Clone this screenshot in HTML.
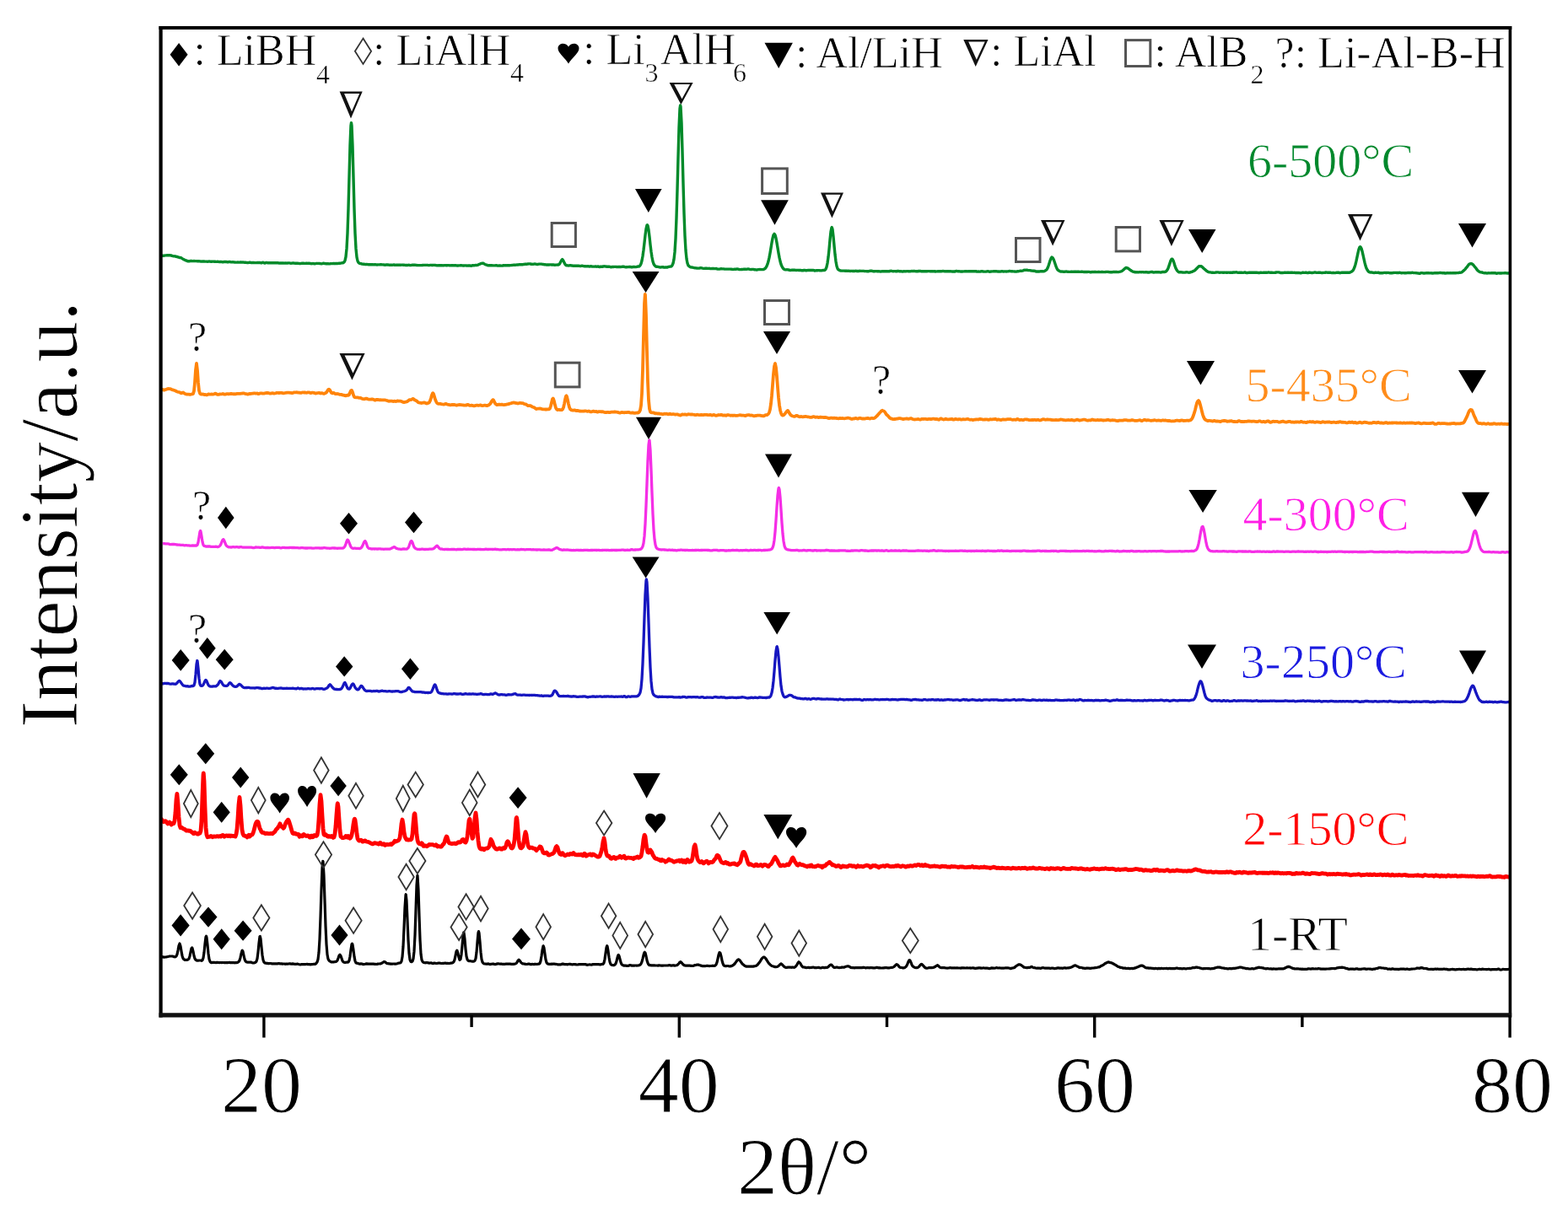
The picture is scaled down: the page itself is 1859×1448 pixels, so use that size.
<!DOCTYPE html><html><head><meta charset="utf-8"><style>html,body{margin:0;padding:0;background:#fff;}svg{display:block;}</style></head><body><svg width="1859" height="1448" viewBox="0 0 1859 1448">
<style>text{stroke:#fff;stroke-linejoin:round}</style>
<rect width="100%" height="100%" fill="#fff"/>
<polyline fill="none" stroke="#008a2a" stroke-width="3.4" stroke-linejoin="round" points="190,303.6 191,303.5 192,303.3 193,303.1 194,303.2 195,303.1 196,302.9 197,302.9 198,302.8 199,302.7 200,302.6 201,302.7 202,302.8 203,303.0 204,303.3 205,303.6 206,303.8 207,303.9 208,304.0 209,304.3 210,304.5 211,304.8 212,305.2 213,305.5 214,305.5 215,305.9 216,306.6 217,307.2 218,307.7 219,308.3 220,308.8 221,309.0 222,309.5 223,309.8 224,309.8 225,309.7 226,309.5 227,309.4 228,309.6 229,309.6 230,309.5 231,309.6 232,309.6 233,309.6 234,309.7 235,309.8 236,309.8 237,309.9 238,310.0 239,310.1 240,310.0 241,309.9 242,310.0 243,310.1 244,310.1 245,310.1 246,310.2 247,310.1 248,310.0 249,310.1 250,310.2 251,310.2 252,310.1 253,310.1 254,310.2 255,310.3 256,310.4 257,310.4 258,310.3 259,310.4 260,310.6 261,310.5 262,310.4 263,310.6 264,310.7 265,310.7 266,310.5 267,310.4 268,310.5 269,310.7 270,310.8 271,310.7 272,310.5 273,310.6 274,310.9 275,310.9 276,310.8 277,310.9 278,311.0 279,311.1 280,311.1 281,311.1 282,311.0 283,311.1 284,311.1 285,310.9 286,311.0 287,311.1 288,311.0 289,311.1 290,311.2 291,311.3 292,311.4 293,311.5 294,311.6 295,311.4 296,311.2 297,311.3 298,311.6 299,311.5 300,311.4 301,311.5 302,311.6 303,311.6 304,311.6 305,311.5 306,311.5 307,311.5 308,311.5 309,311.7 310,311.8 311,311.4 312,311.3 313,311.8 314,312.0 315,311.7 316,311.5 317,311.7 318,311.7 319,311.6 320,311.7 321,311.8 322,311.8 323,311.8 324,311.8 325,311.7 326,311.7 327,311.7 328,311.8 329,311.7 330,311.8 331,312.1 332,312.0 333,312.0 334,312.0 335,312.0 336,312.0 337,312.1 338,312.0 339,312.0 340,312.1 341,312.0 342,311.9 343,311.9 344,312.1 345,312.2 346,312.1 347,312.0 348,311.9 349,312.1 350,312.3 351,312.2 352,312.2 353,312.3 354,312.4 355,312.5 356,312.6 357,312.4 358,312.3 359,312.3 360,312.3 361,312.4 362,312.4 363,312.3 364,312.3 365,312.4 366,312.3 367,312.3 368,312.5 369,312.7 370,312.6 371,312.5 372,312.6 373,312.9 374,312.7 375,312.4 376,312.4 377,312.4 378,312.4 379,312.5 380,312.6 381,312.8 382,312.6 383,312.3 384,312.3 385,312.5 386,312.7 387,312.8 388,312.6 389,312.7 390,312.9 391,312.9 392,312.6 393,312.6 394,312.6 395,312.5 396,312.5 397,312.7 398,312.5 399,312.4 400,312.5 401,312.4 402,312.3 403,312.2 404,312.1 405,311.9 406,311.8 407,311.5 408,310.8 409,309.0 410,304.6 411,294.9 412,276.5 413,247.4 414,210.1 415,172.9 416,148.9 416.5,145.6 417,148.9 418,173.0 419,210.4 420,247.8 421,276.6 422,294.9 423,304.9 424,309.5 425,311.3 426,312.2 427,312.5 428,312.7 429,313.0 430,313.2 431,313.2 432,313.3 433,313.6 434,313.5 435,313.4 436,313.6 437,313.7 438,313.7 439,313.7 440,313.8 441,313.8 442,313.8 443,313.9 444,313.8 445,313.8 446,313.9 447,314.0 448,313.9 449,313.9 450,313.9 451,313.8 452,313.8 453,313.9 454,313.9 455,314.0 456,314.2 457,314.2 458,314.0 459,314.0 460,314.0 461,314.1 462,314.4 463,314.2 464,314.1 465,314.3 466,314.1 467,314.0 468,314.3 469,314.4 470,314.2 471,314.2 472,314.3 473,314.2 474,314.3 475,314.3 476,314.1 477,314.1 478,314.2 479,314.3 480,314.4 481,314.5 482,314.5 483,314.5 484,314.4 485,314.3 486,314.5 487,314.6 488,314.4 489,314.3 490,314.3 491,314.3 492,314.3 493,314.4 494,314.5 495,314.6 496,314.6 497,314.6 498,314.6 499,314.6 500,314.6 501,314.5 502,314.4 503,314.4 504,314.4 505,314.4 506,314.4 507,314.4 508,314.6 509,314.6 510,314.4 511,314.4 512,314.5 513,314.5 514,314.4 515,314.4 516,314.5 517,314.6 518,314.8 519,314.9 520,314.8 521,314.7 522,314.6 523,314.7 524,314.8 525,314.9 526,314.8 527,314.6 528,314.6 529,314.7 530,314.7 531,314.6 532,314.6 533,314.8 534,314.9 535,314.8 536,314.7 537,314.7 538,314.9 539,314.8 540,314.7 541,314.9 542,315.0 543,315.0 544,314.9 545,314.9 546,314.8 547,314.8 548,314.9 549,315.0 550,315.0 551,314.9 552,314.9 553,315.0 554,315.1 555,315.0 556,314.9 557,315.0 558,315.2 559,315.2 560,314.8 561,314.8 562,314.9 563,314.7 564,314.5 565,314.6 566,314.4 567,313.9 568,313.4 569,313.1 570,312.7 571,312.4 571.6,312.3 572,312.2 573,312.3 574,312.9 575,313.5 576,313.9 577,314.2 578,314.6 579,314.8 580,314.8 581,314.8 582,314.8 583,314.7 584,314.9 585,314.9 586,314.9 587,314.9 588,314.8 589,314.8 590,315.0 591,315.1 592,314.9 593,315.0 594,315.1 595,315.1 596,315.0 597,314.7 598,314.6 599,314.8 600,314.8 601,314.6 602,314.7 603,314.8 604,314.8 605,314.6 606,314.6 607,314.5 608,314.4 609,314.3 610,314.2 611,314.2 612,314.1 613,314.0 614,314.0 615,313.8 616,313.8 617,313.8 618,313.8 619,313.7 620,313.7 621,313.5 622,313.3 623,313.2 624,313.3 625,313.2 626,313.0 627,312.9 628,312.9 629,313.0 630,313.3 631,313.4 632,313.3 633,313.1 634,313.0 635,313.1 636,313.3 637,313.5 638,313.3 639,313.1 640,313.1 641,313.1 642,313.1 643,313.3 644,313.5 645,313.7 646,313.7 647,313.9 648,314.0 649,313.9 650,314.0 651,314.0 652,313.9 653,313.9 654,314.0 655,314.0 656,314.0 657,314.2 658,314.2 659,314.1 660,314.1 661,314.0 662,314.0 663,313.5 664,312.1 665,310.1 666,308.2 666.7,307.6 667,307.8 668,309.4 669,311.6 670,313.5 671,314.5 672,314.8 673,314.9 674,315.0 675,314.9 676,314.7 677,314.8 678,315.0 679,315.2 680,315.2 681,315.2 682,315.2 683,315.2 684,315.1 685,315.2 686,315.3 687,315.4 688,315.6 689,315.4 690,315.2 691,315.4 692,315.6 693,315.7 694,315.8 695,315.9 696,315.8 697,315.6 698,315.8 699,316.0 700,315.8 701,315.8 702,316.0 703,316.1 704,316.1 705,316.1 706,316.0 707,316.2 708,316.1 709,316.0 710,316.3 711,316.5 712,316.2 713,316.2 714,316.3 715,316.0 716,315.8 717,315.9 718,316.0 719,316.2 720,316.3 721,316.3 722,316.2 723,316.4 724,316.7 725,316.7 726,316.5 727,316.5 728,316.4 729,316.4 730,316.4 731,316.5 732,316.6 733,316.5 734,316.4 735,316.5 736,316.6 737,316.4 738,316.3 739,316.3 740,316.3 741,316.6 742,316.8 743,316.7 744,316.6 745,316.6 746,316.5 747,316.5 748,316.7 749,316.8 750,316.7 751,316.5 752,316.5 753,316.6 754,316.6 755,316.4 756,316.0 757,316.1 758,315.8 759,314.7 760,312.7 761,309.2 762,303.7 763,296.5 764,287.9 765,279.0 766,271.4 767,267.2 767.4,266.8 768,267.7 769,272.7 770,280.8 771,290.1 772,298.4 773,305.0 774,310.0 775,313.0 776,314.6 777,315.7 778,316.2 779,316.3 780,316.4 781,316.6 782,316.8 783,317.0 784,316.9 785,316.7 786,316.7 787,317.0 788,317.2 789,317.0 790,317.0 791,317.0 792,316.7 793,316.4 794,316.1 795,316.1 796,315.8 797,314.6 798,312.3 799,307.7 800,298.9 801,283.1 802,258.4 803,225.1 804,187.0 805,151.7 806,129.0 806.6,124.9 807,126.5 808,145.5 809,179.2 810,217.7 811,252.6 812,279.5 813,297.0 814,306.9 815,312.2 816,314.8 817,315.8 818,316.4 819,316.9 820,317.0 821,317.2 822,317.4 823,317.6 824,317.8 825,317.9 826,318.0 827,318.1 828,318.1 829,318.0 830,317.8 831,317.8 832,317.9 833,318.2 834,318.4 835,318.4 836,318.3 837,318.2 838,318.3 839,318.4 840,318.4 841,318.3 842,318.5 843,318.6 844,318.5 845,318.4 846,318.5 847,318.6 848,318.6 849,318.5 850,318.8 851,319.1 852,319.1 853,319.1 854,318.9 855,318.7 856,318.9 857,318.9 858,318.9 859,319.1 860,319.1 861,319.1 862,319.1 863,319.1 864,319.1 865,319.1 866,319.1 867,319.2 868,319.4 869,319.5 870,319.4 871,319.3 872,319.3 873,319.2 874,319.0 875,319.1 876,319.5 877,319.6 878,319.6 879,319.5 880,319.5 881,319.4 882,319.2 883,319.2 884,319.3 885,319.4 886,319.2 887,319.0 888,319.1 889,319.4 890,319.6 891,319.5 892,319.4 893,319.4 894,319.7 895,319.8 896,319.9 897,320.0 898,319.8 899,319.6 900,319.6 901,319.5 902,319.6 903,319.6 904,319.6 905,319.5 906,319.2 907,318.5 908,317.4 909,315.7 910,313.2 911,309.8 912,305.4 913,300.1 914,294.1 915,288.0 916,282.6 917,278.8 918,277.4 919,278.7 920,282.5 921,287.9 922,293.9 923,300.0 924,305.4 925,310.0 926,313.5 927,315.9 928,317.6 929,318.8 930,319.5 931,319.9 932,319.9 933,319.8 934,319.9 935,320.0 936,320.3 937,320.5 938,320.4 939,320.3 940,320.3 941,320.3 942,320.3 943,320.4 944,320.5 945,320.4 946,320.4 947,320.5 948,320.4 949,320.5 950,320.7 951,320.8 952,320.8 953,320.5 954,320.4 955,320.7 956,320.8 957,320.6 958,320.5 959,320.5 960,320.5 961,320.5 962,320.5 963,320.5 964,320.5 965,320.7 966,321.0 967,320.9 968,320.8 969,320.7 970,320.6 971,320.6 972,320.8 973,320.9 974,320.9 975,320.6 976,320.5 977,320.5 978,320.3 979,319.2 980,316.6 981,312.1 982,305.1 983,295.6 984,284.5 985,274.8 986,269.9 986.2,269.6 987,271.9 988,280.4 989,291.4 990,301.8 991,310.0 992,315.5 993,318.6 994,319.8 995,320.4 996,320.8 997,321.0 998,321.1 999,321.1 1000,321.1 1001,321.1 1002,321.2 1003,321.2 1004,321.3 1005,321.4 1006,321.3 1007,321.4 1008,321.5 1009,321.4 1010,321.4 1011,321.5 1012,321.5 1013,321.5 1014,321.4 1015,321.3 1016,321.5 1017,321.7 1018,321.5 1019,321.3 1020,321.4 1021,321.4 1022,321.4 1023,321.4 1024,321.4 1025,321.6 1026,321.6 1027,321.6 1028,321.7 1029,321.8 1030,321.7 1031,321.4 1032,321.3 1033,321.2 1034,321.4 1035,321.7 1036,321.8 1037,321.7 1038,321.6 1039,321.6 1040,321.7 1041,321.8 1042,321.8 1043,321.9 1044,322.0 1045,321.8 1046,321.6 1047,321.7 1048,321.8 1049,321.7 1050,321.6 1051,321.7 1052,321.8 1053,321.9 1054,321.8 1055,321.5 1056,321.3 1057,321.4 1058,321.6 1059,321.7 1060,321.6 1061,321.6 1062,321.7 1063,321.8 1064,321.5 1065,321.5 1066,321.7 1067,321.6 1068,321.7 1069,321.9 1070,322.0 1071,321.8 1072,321.8 1073,321.9 1074,321.8 1075,321.6 1076,321.6 1077,321.7 1078,321.9 1079,321.8 1080,321.6 1081,321.5 1082,321.6 1083,321.5 1084,321.5 1085,321.6 1086,321.7 1087,321.8 1088,321.8 1089,321.5 1090,321.5 1091,321.5 1092,321.7 1093,321.7 1094,321.7 1095,321.8 1096,321.7 1097,321.6 1098,321.7 1099,321.7 1100,321.6 1101,321.6 1102,321.6 1103,321.8 1104,321.8 1105,321.8 1106,321.8 1107,321.6 1108,321.7 1109,322.0 1110,321.9 1111,321.9 1112,321.8 1113,321.7 1114,321.7 1115,321.7 1116,321.7 1117,321.6 1118,321.5 1119,321.6 1120,321.7 1121,321.9 1122,321.8 1123,321.7 1124,321.8 1125,321.8 1126,321.6 1127,321.8 1128,321.9 1129,322.0 1130,322.0 1131,322.0 1132,322.0 1133,321.7 1134,321.5 1135,321.6 1136,321.8 1137,321.8 1138,321.9 1139,322.0 1140,322.0 1141,322.0 1142,321.9 1143,321.9 1144,321.8 1145,321.8 1146,321.8 1147,321.9 1148,321.8 1149,321.8 1150,321.7 1151,321.7 1152,321.8 1153,321.7 1154,321.7 1155,321.8 1156,321.7 1157,321.7 1158,322.0 1159,322.1 1160,322.0 1161,322.1 1162,322.1 1163,321.8 1164,321.7 1165,321.8 1166,322.0 1167,322.1 1168,322.1 1169,322.1 1170,321.9 1171,321.7 1172,321.9 1173,322.2 1174,322.2 1175,322.0 1176,321.9 1177,321.9 1178,321.8 1179,321.7 1180,321.6 1181,321.7 1182,321.9 1183,322.0 1184,322.0 1185,322.1 1186,322.0 1187,321.9 1188,321.6 1189,321.8 1190,322.0 1191,321.9 1192,321.9 1193,322.0 1194,321.9 1195,321.9 1196,321.7 1197,321.5 1198,321.6 1199,321.7 1200,321.8 1201,321.9 1202,321.9 1203,322.0 1204,322.1 1205,322.0 1206,321.8 1207,321.8 1208,321.6 1209,321.4 1210,321.3 1211,321.3 1212,321.1 1213,320.8 1214,320.4 1215,320.3 1216,320.4 1217,320.3 1218,320.3 1219,320.6 1220,320.6 1221,320.6 1222,320.8 1223,321.0 1224,321.1 1225,321.2 1226,321.3 1227,321.4 1228,321.8 1229,322.0 1230,322.0 1231,321.9 1232,322.0 1233,321.9 1234,321.7 1235,321.7 1236,321.8 1237,321.9 1238,321.7 1239,321.1 1240,320.6 1241,319.7 1242,317.9 1243,315.3 1244,312.3 1245,309.1 1246,306.5 1247,305.1 1247.4,305.3 1248,305.7 1249,307.3 1250,310.0 1251,313.0 1252,315.9 1253,318.4 1254,320.0 1255,320.8 1256,321.4 1257,321.8 1258,322.1 1259,322.0 1260,322.1 1261,322.3 1262,322.3 1263,322.1 1264,322.0 1265,322.1 1266,322.3 1267,322.4 1268,322.4 1269,322.4 1270,322.3 1271,322.3 1272,322.4 1273,322.3 1274,322.2 1275,322.3 1276,322.3 1277,322.1 1278,322.2 1279,322.3 1280,322.4 1281,322.4 1282,322.3 1283,322.3 1284,322.4 1285,322.5 1286,322.5 1287,322.5 1288,322.5 1289,322.5 1290,322.4 1291,322.4 1292,322.6 1293,322.8 1294,322.7 1295,322.5 1296,322.6 1297,322.5 1298,322.4 1299,322.5 1300,322.6 1301,322.6 1302,322.5 1303,322.5 1304,322.6 1305,322.6 1306,322.5 1307,322.5 1308,322.6 1309,322.6 1310,322.6 1311,322.5 1312,322.4 1313,322.4 1314,322.5 1315,322.6 1316,322.7 1317,322.7 1318,322.7 1319,322.7 1320,322.5 1321,322.4 1322,322.5 1323,322.5 1324,322.5 1325,322.6 1326,322.6 1327,322.4 1328,322.2 1329,321.9 1330,321.5 1331,320.9 1332,319.9 1333,319.0 1334,318.2 1335,317.5 1335.7,317.5 1336,317.8 1337,318.0 1338,318.7 1339,319.5 1340,320.2 1341,320.8 1342,321.6 1343,322.1 1344,322.3 1345,322.5 1346,322.8 1347,322.9 1348,322.8 1349,322.9 1350,322.9 1351,322.6 1352,322.6 1353,322.7 1354,322.6 1355,322.6 1356,322.9 1357,322.9 1358,322.7 1359,322.7 1360,322.8 1361,323.0 1362,323.0 1363,322.8 1364,322.6 1365,322.5 1366,322.5 1367,322.8 1368,323.0 1369,322.9 1370,322.7 1371,322.6 1372,322.7 1373,322.8 1374,322.8 1375,322.9 1376,323.0 1377,322.9 1378,322.5 1379,322.4 1380,322.5 1381,322.5 1382,322.1 1383,321.3 1384,320.0 1385,317.9 1386,315.1 1387,312.1 1388,309.1 1389,307.3 1389.5,307.1 1390,307.3 1391,309.0 1392,312.1 1393,315.4 1394,318.1 1395,320.0 1396,321.4 1397,322.4 1398,322.8 1399,322.7 1400,322.7 1401,322.9 1402,323.0 1403,323.1 1404,323.1 1405,323.0 1406,322.8 1407,322.8 1408,322.9 1409,323.1 1410,323.2 1411,323.0 1412,322.6 1413,322.3 1414,321.9 1415,321.4 1416,321.0 1417,320.3 1418,319.3 1419,318.3 1420,317.1 1421,316.1 1422,315.7 1423,315.6 1424,315.7 1425,316.3 1426,317.2 1427,318.2 1428,319.1 1429,319.9 1430,320.8 1431,321.6 1432,322.2 1433,322.6 1434,322.9 1435,322.9 1436,323.1 1437,323.3 1438,323.3 1439,323.4 1440,323.4 1441,323.2 1442,323.0 1443,322.9 1444,322.9 1445,323.1 1446,323.2 1447,323.1 1448,323.1 1449,323.1 1450,323.2 1451,323.2 1452,323.1 1453,323.1 1454,323.3 1455,323.3 1456,323.1 1457,323.1 1458,323.3 1459,323.3 1460,323.2 1461,323.3 1462,323.0 1463,322.9 1464,323.0 1465,322.9 1466,322.8 1467,323.2 1468,323.4 1469,323.3 1470,323.2 1471,323.1 1472,323.2 1473,323.4 1474,323.4 1475,323.2 1476,323.0 1477,323.3 1478,323.5 1479,323.5 1480,323.4 1481,323.2 1482,323.2 1483,323.3 1484,323.3 1485,323.2 1486,323.3 1487,323.3 1488,323.2 1489,323.1 1490,323.2 1491,323.4 1492,323.5 1493,323.5 1494,323.3 1495,323.2 1496,323.4 1497,323.4 1498,323.3 1499,323.2 1500,323.2 1501,323.3 1502,323.3 1503,323.1 1504,322.9 1505,323.1 1506,323.3 1507,323.3 1508,323.3 1509,323.4 1510,323.4 1511,323.4 1512,323.3 1513,323.0 1514,322.9 1515,322.9 1516,322.9 1517,323.1 1518,323.5 1519,323.5 1520,323.5 1521,323.5 1522,323.4 1523,323.3 1524,323.3 1525,323.4 1526,323.3 1527,323.2 1528,323.3 1529,323.4 1530,323.3 1531,323.2 1532,323.2 1533,323.4 1534,323.4 1535,323.3 1536,323.5 1537,323.5 1538,323.4 1539,323.5 1540,323.5 1541,323.6 1542,323.8 1543,323.6 1544,323.3 1545,323.3 1546,323.4 1547,323.4 1548,323.2 1549,323.3 1550,323.6 1551,323.5 1552,323.2 1553,323.3 1554,323.4 1555,323.5 1556,323.5 1557,323.4 1558,323.2 1559,323.0 1560,323.1 1561,323.4 1562,323.4 1563,323.3 1564,323.2 1565,323.2 1566,323.4 1567,323.6 1568,323.5 1569,323.4 1570,323.4 1571,323.3 1572,323.0 1573,323.1 1574,323.2 1575,323.3 1576,323.2 1577,323.1 1578,323.4 1579,323.6 1580,323.5 1581,323.4 1582,323.6 1583,323.6 1584,323.4 1585,323.3 1586,323.3 1587,323.2 1588,323.5 1589,323.7 1590,323.4 1591,323.2 1592,323.3 1593,323.3 1594,323.2 1595,323.3 1596,323.3 1597,323.3 1598,323.3 1599,323.3 1600,323.2 1601,322.8 1602,322.3 1603,321.7 1604,320.8 1605,319.2 1606,316.7 1607,313.5 1608,309.4 1609,304.6 1610,299.8 1611,295.7 1612,293.2 1612.7,292.7 1613,292.9 1614,294.6 1615,298.0 1616,302.3 1617,306.9 1618,311.4 1619,315.3 1620,318.1 1621,320.0 1622,321.5 1623,322.5 1624,322.9 1625,323.0 1626,323.0 1627,323.1 1628,323.4 1629,323.5 1630,323.3 1631,323.2 1632,323.4 1633,323.4 1634,323.2 1635,323.5 1636,323.8 1637,323.8 1638,323.7 1639,323.7 1640,323.6 1641,323.4 1642,323.4 1643,323.5 1644,323.5 1645,323.4 1646,323.4 1647,323.6 1648,323.7 1649,323.7 1650,323.7 1651,323.7 1652,323.5 1653,323.4 1654,323.4 1655,323.4 1656,323.5 1657,323.5 1658,323.5 1659,323.3 1660,323.4 1661,323.7 1662,323.7 1663,323.6 1664,323.6 1665,323.7 1666,323.8 1667,323.7 1668,323.6 1669,323.5 1670,323.4 1671,323.5 1672,323.7 1673,323.5 1674,323.3 1675,323.4 1676,323.6 1677,323.6 1678,323.6 1679,323.7 1680,323.9 1681,324.0 1682,324.2 1683,324.3 1684,324.0 1685,323.6 1686,323.6 1687,323.8 1688,324.0 1689,324.0 1690,323.9 1691,323.8 1692,323.8 1693,323.8 1694,323.8 1695,323.9 1696,323.9 1697,323.8 1698,324.0 1699,324.0 1700,323.9 1701,323.7 1702,323.7 1703,323.7 1704,323.7 1705,323.7 1706,323.6 1707,323.5 1708,323.5 1709,323.6 1710,323.7 1711,323.6 1712,323.7 1713,324.0 1714,324.0 1715,323.8 1716,323.7 1717,323.8 1718,323.9 1719,323.8 1720,323.8 1721,323.9 1722,323.8 1723,323.8 1724,323.7 1725,323.7 1726,323.7 1727,323.6 1728,323.6 1729,323.5 1730,323.3 1731,323.3 1732,323.1 1733,322.8 1734,322.1 1735,321.2 1736,320.4 1737,319.4 1738,318.0 1739,316.9 1740,315.6 1741,314.2 1742,313.1 1743,312.8 1743.8,312.9 1744,312.7 1745,312.8 1746,313.5 1747,314.5 1748,315.8 1749,317.0 1750,318.2 1751,319.7 1752,320.9 1753,321.6 1754,322.3 1755,322.8 1756,322.9 1757,323.0 1758,323.3 1759,323.6 1760,323.8 1761,323.8 1762,323.9 1763,324.0 1764,323.9 1765,323.8 1766,323.9 1767,323.9 1768,323.8 1769,323.8 1770,323.8 1771,323.8 1772,323.7 1773,323.8 1774,324.2 1775,324.2 1776,323.9 1777,323.9 1778,324.0 1779,324.0 1780,324.0 1781,323.9 1782,323.9 1783,323.9 1784,323.7 1785,323.6 1786,323.8 1787,324.0 1788,324.0 1789,323.9 1790,324.0"/>
<polyline fill="none" stroke="#ff840a" stroke-width="3.8" stroke-linejoin="round" points="190,462.9 191,462.6 192,462.1 193,462.0 194,462.5 195,462.5 196,462.0 197,461.8 198,461.4 199,461.1 200,461.0 201,461.2 202,461.2 202.6,461.4 203,461.7 204,462.1 205,462.4 206,462.7 207,463.0 208,463.4 209,464.0 210,464.4 211,464.8 212,465.0 213,465.2 214,465.9 215,466.3 216,465.8 217,465.5 218,466.1 219,466.8 220,467.2 221,467.5 222,467.6 223,467.7 224,467.7 225,467.9 226,467.8 227,467.5 228,467.3 229,466.9 230,463.6 231,453.6 232,438.7 233,430.9 234,439.2 235,453.9 236,463.2 237,466.4 238,467.5 239,467.7 240,467.4 241,467.6 242,468.0 243,467.9 244,468.2 245,468.4 246,468.0 247,467.5 248,467.5 249,467.7 250,467.6 251,467.5 252,467.6 253,467.6 254,467.2 255,466.7 256,466.9 257,467.5 258,467.9 259,467.9 260,467.6 261,467.3 262,467.5 263,467.3 264,467.0 265,467.2 266,467.7 267,467.7 268,467.4 269,467.2 270,467.2 271,467.4 272,467.2 273,467.0 274,467.0 275,467.0 276,467.2 277,467.4 278,467.2 279,467.3 280,467.1 281,466.9 282,466.8 283,466.9 284,466.9 285,466.8 286,466.7 287,466.6 288,466.4 289,466.4 290,466.7 291,467.1 292,467.2 293,467.4 294,467.6 295,467.1 296,466.9 297,467.0 298,466.8 299,466.7 300,466.6 301,466.4 302,466.3 303,466.6 304,466.6 305,466.5 306,467.0 307,467.0 308,466.6 309,466.3 310,466.4 311,466.5 312,466.7 313,466.6 314,466.3 315,466.1 316,466.0 317,465.9 318,466.0 319,466.3 320,466.6 321,466.6 322,466.3 323,466.2 324,466.4 325,466.7 326,466.5 327,466.2 328,465.9 329,465.8 330,466.0 331,466.0 332,465.9 333,465.8 334,465.9 335,466.1 336,466.3 337,466.2 338,466.0 339,465.8 340,465.7 341,465.6 342,465.6 343,465.7 344,465.8 345,465.9 346,466.1 347,466.0 348,465.6 349,465.3 350,465.3 351,465.3 352,465.2 353,465.5 354,465.6 355,465.6 356,465.9 357,465.9 358,465.5 359,465.3 360,465.5 361,465.5 362,465.5 363,465.8 364,465.7 365,465.3 366,465.3 367,465.6 368,466.0 369,466.0 370,465.6 371,465.6 372,465.8 373,466.1 374,466.5 375,466.4 376,466.2 377,466.0 378,465.8 379,466.1 380,466.5 381,466.2 382,466.2 383,466.6 384,466.9 385,466.5 386,466.0 387,465.4 388,463.8 389,462.2 390,461.6 391,462.5 392,464.3 393,465.9 394,466.4 395,466.0 396,466.0 397,466.7 398,467.2 399,467.1 400,467.0 401,467.2 402,467.6 403,467.8 404,467.8 405,467.9 406,468.5 407,468.7 408,468.7 409,469.2 410,469.3 411,468.8 412,468.7 413,468.9 414,468.0 415,465.5 416,463.2 416.8,462.9 417,462.9 418,465.0 419,468.5 420,470.7 421,471.2 422,471.3 423,471.3 424,471.3 425,471.6 426,471.8 427,471.8 428,472.1 429,472.7 430,473.1 431,473.2 432,473.3 433,472.9 434,472.6 435,472.7 436,473.2 437,473.6 438,473.7 439,473.7 440,473.5 441,473.5 442,473.5 443,473.8 444,474.5 445,474.5 446,474.0 447,474.0 448,474.0 449,474.1 450,474.3 451,474.2 452,474.3 453,474.4 454,474.4 455,474.3 456,474.3 457,474.5 458,474.8 459,475.0 460,475.4 461,475.8 462,475.7 463,475.6 464,475.6 465,475.7 466,476.0 467,475.9 468,475.7 469,476.0 470,475.9 471,475.4 472,475.5 473,475.7 474,475.6 475,475.7 476,476.0 477,476.5 478,476.9 479,477.1 480,476.9 481,476.7 482,476.5 483,476.0 484,475.2 485,474.4 486,474.1 487,474.1 488,473.8 489,473.3 489.5,473.0 490,473.0 491,473.9 492,474.6 493,475.0 494,475.5 495,476.4 496,477.2 497,477.6 498,477.7 499,477.9 500,478.0 501,477.7 502,477.5 503,477.4 504,477.6 505,478.3 506,478.5 507,478.0 508,477.8 509,477.2 510,475.2 511,472.1 512,468.6 513,466.4 513.3,466.2 514,467.1 515,470.4 516,473.7 517,476.1 518,477.8 519,478.7 520,478.9 521,478.8 522,478.8 523,479.1 524,479.3 525,479.5 526,479.7 527,479.4 528,478.9 529,479.0 530,479.5 531,479.8 532,479.9 533,480.1 534,480.3 535,480.2 536,479.9 537,480.0 538,480.0 539,479.9 540,480.3 541,480.6 542,480.5 543,480.2 544,480.1 545,480.0 546,480.1 547,480.2 548,480.3 549,480.4 550,480.6 551,480.7 552,480.5 553,480.5 554,480.0 555,479.9 556,480.5 557,480.9 558,480.8 559,480.6 560,480.8 561,481.1 562,481.3 563,481.1 564,480.9 565,480.7 566,480.6 567,480.8 568,480.8 569,480.5 570,480.5 571,481.0 572,481.2 573,481.0 574,480.7 575,480.7 576,480.9 577,481.0 578,481.0 579,480.6 580,479.9 581,479.1 582,477.6 583,475.6 584,474.4 584.4,474.1 585,474.3 586,476.5 587,478.4 588,479.4 589,480.0 590,480.1 591,479.7 592,479.6 593,479.9 594,479.9 595,479.6 596,480.0 597,480.2 598,480.0 599,479.9 600,479.8 601,479.4 602,479.4 603,479.2 604,478.7 605,478.5 606,478.3 607,477.8 608,477.6 609,477.5 610,477.6 611,477.9 612,478.0 613,478.2 614,478.6 615,478.2 616,477.9 617,477.9 618,478.0 619,478.2 620,478.2 621,478.8 622,479.2 623,479.3 624,479.8 625,480.5 626,481.2 627,481.2 628,481.0 629,481.2 630,481.7 631,482.4 632,482.8 633,483.1 634,483.7 635,484.6 636,485.1 637,484.7 638,484.6 639,484.6 640,484.5 641,484.6 642,484.9 643,485.3 644,485.3 645,485.3 646,485.5 647,485.5 648,485.5 649,485.4 650,485.3 651,485.3 652,484.4 653,481.5 654,477.2 655,473.3 655.7,472.5 656,472.8 657,475.9 658,480.4 659,483.8 660,485.4 661,486.0 662,485.9 663,485.9 664,486.1 665,486.2 666,486.1 667,485.4 668,483.3 669,479.1 670,473.8 671,469.8 671.5,469.3 672,470.2 673,474.2 674,479.1 675,483.0 676,485.3 677,486.1 678,486.4 679,486.7 680,486.7 681,486.3 682,486.5 683,487.0 684,487.0 685,486.9 686,487.2 687,487.6 688,487.5 689,487.7 690,487.7 691,487.6 692,487.6 693,487.5 694,487.3 695,487.5 696,487.8 697,487.8 698,487.5 699,487.8 700,488.4 701,488.4 702,488.0 703,487.7 704,487.7 705,488.1 706,488.1 707,488.0 708,488.5 709,488.5 710,488.1 711,488.1 712,488.2 713,488.4 714,488.2 715,488.3 716,488.7 717,489.0 718,489.1 719,489.1 720,488.8 721,488.9 722,489.1 723,489.1 724,488.8 725,488.7 726,488.7 727,488.7 728,488.5 729,488.4 730,488.7 731,488.7 732,488.8 733,489.1 734,489.5 735,489.7 736,489.3 737,488.9 738,489.1 739,489.2 740,489.3 741,489.1 742,489.1 743,489.1 744,489.0 745,488.8 746,489.1 747,489.5 748,489.7 749,489.5 750,489.4 751,489.6 752,489.9 753,489.9 754,489.7 755,489.5 756,489.6 757,489.4 758,488.4 759,486.4 760,480.9 761,466.8 762,438.7 763,398.0 764,360.5 764.8,348.8 765,349.7 766,374.0 767,415.6 768,452.1 769,474.3 770,484.8 771,488.4 772,489.2 773,489.4 774,489.3 775,489.4 776,490.0 777,490.4 778,490.2 779,490.3 780,490.6 781,490.4 782,490.6 783,490.9 784,490.8 785,491.2 786,491.4 787,490.9 788,490.7 789,490.8 790,490.7 791,490.9 792,491.4 793,491.2 794,490.7 795,490.9 796,491.3 797,491.3 798,491.0 799,491.2 800,491.5 801,491.6 802,491.4 803,491.3 804,491.8 805,492.0 806,492.4 807,492.5 808,491.7 809,491.4 810,491.6 811,491.6 812,491.4 813,491.6 814,491.9 815,491.6 816,491.2 817,491.3 818,491.4 819,491.6 820,491.5 821,491.5 822,491.7 823,491.8 824,492.1 825,492.2 826,491.8 827,491.7 828,492.0 829,492.2 830,492.1 831,492.0 832,492.0 833,492.1 834,492.1 835,491.8 836,491.8 837,491.9 838,491.9 839,492.1 840,492.2 841,492.1 842,491.9 843,492.1 844,492.6 845,492.4 846,491.9 847,492.1 848,492.7 849,492.8 850,492.6 851,492.4 852,492.0 853,492.2 854,492.2 855,491.8 856,492.0 857,492.6 858,492.6 859,492.4 860,492.6 861,492.8 862,492.3 863,492.0 864,492.2 865,492.5 866,492.8 867,492.6 868,492.6 869,492.9 870,492.7 871,492.7 872,492.9 873,492.9 874,492.8 875,492.7 876,492.5 877,492.2 878,492.4 879,492.5 880,492.6 881,492.6 882,492.7 883,493.1 884,493.0 885,492.4 886,492.4 887,492.2 888,492.1 889,492.5 890,492.6 891,492.5 892,492.7 893,493.1 894,493.3 895,493.1 896,493.0 897,492.9 898,492.7 899,492.6 900,492.6 901,492.7 902,492.9 903,493.1 904,493.1 905,493.4 906,493.2 907,492.4 908,492.2 909,492.2 910,491.7 911,490.8 912,489.1 913,485.5 914,478.9 915,469.2 916,456.6 917,443.7 918,434.5 918.9,431.2 919,431.1 920,435.9 921,446.3 922,459.2 923,471.4 924,480.5 925,486.4 926,490.1 927,492.0 928,492.6 929,492.3 930,491.4 931,490.2 932,488.9 933,487.6 933.6,487.0 934,486.9 935,488.4 936,490.2 937,491.6 938,492.6 939,493.2 940,493.5 941,493.8 942,493.9 943,493.5 944,492.8 945,492.9 946,493.5 947,494.0 948,494.3 949,494.1 950,494.0 951,494.3 952,494.4 953,494.2 954,494.1 955,493.8 956,494.0 957,494.3 958,494.3 959,494.5 960,494.8 961,494.9 962,494.9 963,494.6 964,494.1 965,494.1 966,494.6 967,494.8 968,494.6 969,494.6 970,495.0 971,495.1 972,494.7 973,494.7 974,494.9 975,494.8 976,495.0 977,495.1 978,494.9 979,495.0 980,495.2 981,495.5 982,495.9 983,496.0 984,495.9 985,495.7 986,495.6 987,495.9 988,495.9 989,495.7 990,495.8 991,495.9 992,496.0 993,496.2 994,496.3 995,496.1 996,496.0 997,496.1 998,496.1 999,496.0 1000,496.2 1001,496.3 1002,496.2 1003,496.0 1004,495.8 1005,495.7 1006,495.7 1007,496.0 1008,496.2 1009,496.7 1010,497.0 1011,496.6 1012,496.5 1013,496.4 1014,496.0 1015,496.0 1016,496.4 1017,496.7 1018,496.3 1019,495.8 1020,495.8 1021,496.2 1022,496.6 1023,496.5 1024,496.5 1025,496.6 1026,496.4 1027,496.2 1028,496.0 1029,495.9 1030,496.2 1031,496.5 1032,496.4 1033,495.9 1034,495.9 1035,496.1 1036,496.1 1037,495.7 1038,494.8 1039,493.9 1040,493.0 1041,491.8 1042,490.6 1043,489.5 1044,488.5 1045,487.4 1046,486.7 1046.2,487.0 1047,487.2 1048,487.5 1049,488.5 1050,490.1 1051,491.6 1052,492.5 1053,493.4 1054,494.6 1055,495.7 1056,496.3 1057,496.4 1058,497.0 1059,497.2 1060,497.0 1061,497.0 1062,496.9 1063,496.7 1064,496.5 1065,496.4 1066,496.2 1067,496.1 1068,496.3 1069,496.5 1070,496.9 1071,497.1 1072,496.8 1073,496.7 1074,496.6 1075,496.4 1076,496.6 1077,496.8 1078,496.6 1079,496.3 1080,496.1 1081,496.5 1082,497.0 1083,497.3 1084,497.5 1085,497.4 1086,497.3 1087,497.2 1088,497.0 1089,497.1 1090,497.5 1091,497.7 1092,497.2 1093,496.8 1094,497.0 1095,496.9 1096,496.8 1097,496.8 1098,496.9 1099,497.3 1100,497.2 1101,496.9 1102,496.9 1103,497.0 1104,497.1 1105,496.9 1106,496.7 1107,496.7 1108,496.9 1109,497.0 1110,496.9 1111,497.0 1112,497.5 1113,497.8 1114,497.2 1115,496.4 1116,496.5 1117,497.0 1118,497.3 1119,497.6 1120,497.2 1121,496.7 1122,496.9 1123,497.3 1124,497.4 1125,497.4 1126,497.2 1127,497.1 1128,496.9 1129,497.0 1130,497.6 1131,497.7 1132,497.1 1133,496.8 1134,497.1 1135,497.3 1136,497.5 1137,497.1 1138,497.1 1139,497.5 1140,497.6 1141,497.4 1142,497.2 1143,497.4 1144,497.4 1145,497.3 1146,497.0 1147,496.8 1148,497.1 1149,497.5 1150,497.8 1151,497.7 1152,497.6 1153,498.0 1154,498.1 1155,497.7 1156,497.6 1157,497.5 1158,497.4 1159,497.4 1160,497.5 1161,497.1 1162,496.9 1163,497.1 1164,497.2 1165,497.6 1166,497.7 1167,497.5 1168,497.5 1169,497.4 1170,497.4 1171,497.7 1172,497.9 1173,497.6 1174,497.1 1175,497.3 1176,497.5 1177,497.2 1178,497.1 1179,497.1 1180,496.8 1181,497.2 1182,497.8 1183,497.6 1184,497.4 1185,497.7 1186,498.0 1187,498.1 1188,497.6 1189,497.4 1190,497.5 1191,497.6 1192,497.6 1193,497.5 1194,497.2 1195,497.1 1196,497.1 1197,497.1 1198,497.1 1199,497.5 1200,497.8 1201,497.8 1202,497.6 1203,497.7 1204,497.9 1205,497.6 1206,497.0 1207,497.1 1208,497.8 1209,498.1 1210,497.8 1211,497.7 1212,498.1 1213,498.2 1214,497.9 1215,497.4 1216,497.3 1217,497.5 1218,497.5 1219,497.8 1220,498.1 1221,498.1 1222,498.2 1223,498.0 1224,498.0 1225,498.1 1226,497.9 1227,497.9 1228,498.1 1229,498.1 1230,497.8 1231,497.8 1232,498.2 1233,498.5 1234,498.2 1235,497.7 1236,497.4 1237,497.2 1238,497.3 1239,497.7 1240,497.8 1241,497.5 1242,497.4 1243,497.6 1244,497.6 1245,497.6 1246,497.9 1247,498.0 1248,498.1 1249,498.1 1250,498.1 1251,498.1 1252,498.0 1253,498.1 1254,498.2 1255,498.1 1256,497.9 1257,497.6 1258,497.5 1259,497.7 1260,497.9 1261,498.1 1262,498.2 1263,498.3 1264,498.3 1265,498.2 1266,498.1 1267,498.0 1268,498.2 1269,498.3 1270,497.9 1271,498.0 1272,498.4 1273,498.5 1274,498.6 1275,498.3 1276,497.9 1277,497.7 1278,497.9 1279,498.4 1280,498.6 1281,498.3 1282,498.2 1283,498.0 1284,497.7 1285,497.7 1286,497.7 1287,497.9 1288,498.3 1289,498.6 1290,498.6 1291,498.4 1292,498.3 1293,498.5 1294,498.1 1295,497.5 1296,497.8 1297,498.2 1298,498.1 1299,498.3 1300,498.3 1301,497.9 1302,498.1 1303,498.4 1304,498.2 1305,498.0 1306,498.2 1307,498.4 1308,498.5 1309,498.5 1310,498.3 1311,498.3 1312,498.1 1313,497.9 1314,497.9 1315,498.2 1316,498.6 1317,498.5 1318,498.3 1319,498.2 1320,498.3 1321,498.4 1322,498.4 1323,498.8 1324,499.0 1325,499.1 1326,499.0 1327,498.6 1328,498.6 1329,498.7 1330,498.7 1331,498.7 1332,498.4 1333,498.2 1334,498.1 1335,498.1 1336,498.3 1337,498.6 1338,498.6 1339,498.6 1340,498.6 1341,498.4 1342,498.1 1343,498.2 1344,498.5 1345,498.8 1346,498.9 1347,498.9 1348,498.8 1349,498.7 1350,498.5 1351,498.2 1352,498.3 1353,499.0 1354,499.1 1355,498.6 1356,498.1 1357,497.8 1358,498.0 1359,498.5 1360,498.4 1361,498.2 1362,498.3 1363,498.5 1364,498.8 1365,498.9 1366,498.7 1367,498.7 1368,498.4 1369,498.2 1370,498.5 1371,498.8 1372,498.7 1373,498.5 1374,498.6 1375,498.7 1376,498.9 1377,498.9 1378,498.4 1379,498.4 1380,498.7 1381,498.5 1382,498.5 1383,498.8 1384,498.9 1385,499.0 1386,499.0 1387,499.0 1388,499.3 1389,499.5 1390,499.3 1391,499.3 1392,499.3 1393,499.1 1394,498.8 1395,498.6 1396,498.6 1397,498.8 1398,499.0 1399,499.0 1400,498.6 1401,498.5 1402,498.6 1403,498.9 1404,499.0 1405,498.8 1406,498.8 1407,498.7 1408,498.7 1409,498.9 1410,498.7 1411,498.5 1412,497.9 1413,496.8 1414,495.0 1415,492.5 1416,489.4 1417,485.9 1418,481.7 1419,477.9 1420,475.9 1420.7,475.3 1421,475.0 1422,476.6 1423,480.0 1424,483.9 1425,488.0 1426,491.8 1427,494.6 1428,496.6 1429,497.7 1430,498.2 1431,498.8 1432,499.2 1433,498.9 1434,498.8 1435,499.0 1436,499.2 1437,499.4 1438,499.5 1439,499.1 1440,498.8 1441,499.4 1442,499.6 1443,499.4 1444,499.6 1445,499.7 1446,499.9 1447,500.0 1448,499.5 1449,499.2 1450,499.1 1451,499.0 1452,499.0 1453,499.1 1454,499.3 1455,499.8 1456,499.7 1457,499.5 1458,499.5 1459,499.2 1460,499.2 1461,499.6 1462,499.9 1463,500.0 1464,500.0 1465,500.1 1466,500.1 1467,500.0 1468,499.4 1469,499.1 1470,499.5 1471,499.9 1472,500.0 1473,500.0 1474,500.1 1475,500.0 1476,499.9 1477,499.8 1478,499.8 1479,499.6 1480,499.4 1481,499.5 1482,499.6 1483,499.7 1484,499.8 1485,499.7 1486,499.7 1487,499.7 1488,499.8 1489,500.0 1490,500.1 1491,500.1 1492,499.7 1493,499.3 1494,499.4 1495,499.9 1496,500.3 1497,500.1 1498,499.8 1499,500.0 1500,500.6 1501,500.2 1502,499.6 1503,499.4 1504,499.5 1505,500.4 1506,500.9 1507,500.7 1508,500.2 1509,499.8 1510,499.7 1511,500.0 1512,499.9 1513,499.9 1514,499.9 1515,500.1 1516,500.6 1517,500.7 1518,500.4 1519,500.1 1520,499.8 1521,499.6 1522,499.9 1523,500.3 1524,500.5 1525,500.6 1526,500.4 1527,500.1 1528,499.9 1529,499.9 1530,500.1 1531,500.7 1532,500.6 1533,500.5 1534,500.8 1535,500.6 1536,500.4 1537,500.5 1538,500.4 1539,500.4 1540,500.7 1541,500.7 1542,500.0 1543,499.9 1544,500.5 1545,500.8 1546,500.7 1547,500.7 1548,501.1 1549,501.0 1550,500.5 1551,500.5 1552,500.3 1553,500.0 1554,500.3 1555,500.5 1556,500.1 1557,500.2 1558,500.7 1559,500.8 1560,500.6 1561,500.3 1562,500.3 1563,500.6 1564,500.7 1565,500.9 1566,501.1 1567,500.7 1568,500.2 1569,500.3 1570,500.7 1571,500.9 1572,500.7 1573,500.5 1574,500.6 1575,500.5 1576,500.4 1577,500.7 1578,501.0 1579,501.0 1580,500.8 1581,500.7 1582,500.7 1583,501.0 1584,501.2 1585,500.8 1586,500.7 1587,500.8 1588,500.3 1589,500.1 1590,500.6 1591,500.8 1592,500.6 1593,500.8 1594,500.9 1595,500.9 1596,501.3 1597,501.5 1598,501.2 1599,500.7 1600,500.6 1601,501.0 1602,500.9 1603,500.5 1604,501.0 1605,501.4 1606,501.0 1607,501.0 1608,501.6 1609,501.6 1610,501.4 1611,501.1 1612,500.7 1613,500.8 1614,501.4 1615,501.6 1616,501.2 1617,500.8 1618,500.7 1619,500.8 1620,501.1 1621,501.2 1622,501.5 1623,501.8 1624,501.7 1625,501.7 1626,501.8 1627,501.5 1628,501.0 1629,500.9 1630,501.1 1631,501.3 1632,501.5 1633,501.0 1634,500.7 1635,501.2 1636,501.6 1637,501.5 1638,501.4 1639,501.7 1640,501.9 1641,501.7 1642,501.4 1643,501.1 1644,501.1 1645,501.8 1646,501.8 1647,501.5 1648,501.6 1649,501.6 1650,501.4 1651,501.5 1652,501.5 1653,501.3 1654,501.3 1655,501.5 1656,501.5 1657,501.6 1658,501.7 1659,501.6 1660,501.5 1661,501.5 1662,501.7 1663,501.8 1664,501.5 1665,501.5 1666,501.8 1667,501.7 1668,501.5 1669,501.6 1670,501.6 1671,501.5 1672,501.6 1673,501.5 1674,501.4 1675,501.6 1676,501.7 1677,501.9 1678,502.1 1679,501.9 1680,501.6 1681,501.6 1682,501.4 1683,501.7 1684,502.2 1685,502.3 1686,502.3 1687,502.0 1688,501.7 1689,501.8 1690,502.0 1691,502.1 1692,502.1 1693,502.2 1694,502.2 1695,502.1 1696,502.0 1697,501.9 1698,501.6 1699,501.5 1700,502.2 1701,502.8 1702,502.9 1703,502.9 1704,502.4 1705,501.8 1706,501.8 1707,502.2 1708,502.3 1709,502.2 1710,502.2 1711,502.1 1712,502.1 1713,502.2 1714,502.3 1715,502.5 1716,502.5 1717,502.7 1718,502.6 1719,502.5 1720,502.6 1721,502.2 1722,502.1 1723,502.1 1724,501.9 1725,502.4 1726,502.6 1727,502.4 1728,502.3 1729,502.3 1730,502.3 1731,502.4 1732,502.1 1733,501.9 1734,501.8 1735,501.4 1736,500.3 1737,498.3 1738,496.3 1739,494.4 1740,492.0 1741,489.3 1742,487.3 1743,486.1 1743.8,485.9 1744,485.9 1745,486.3 1746,488.3 1747,491.2 1748,493.6 1749,495.6 1750,498.0 1751,500.1 1752,501.4 1753,502.0 1754,502.2 1755,502.0 1756,502.3 1757,502.6 1758,502.4 1759,502.2 1760,502.3 1761,502.7 1762,502.8 1763,502.6 1764,502.2 1765,502.4 1766,502.9 1767,502.8 1768,502.6 1769,502.9 1770,502.7 1771,502.2 1772,502.3 1773,502.7 1774,502.9 1775,502.8 1776,502.7 1777,502.7 1778,502.8 1779,502.6 1780,502.5 1781,502.6 1782,502.8 1783,502.8 1784,502.7 1785,502.8 1786,502.9 1787,503.1 1788,502.9 1789,502.8 1790,503.1"/>
<polyline fill="none" stroke="#f52ee6" stroke-width="3.3" stroke-linejoin="round" points="193,644.8 194,644.6 195,644.7 196,644.8 197,644.9 198,644.9 199,644.8 200,645.0 201,645.4 202,645.7 203,645.6 204,645.4 205,645.5 206,645.5 207,645.5 208,645.7 209,645.9 210,646.0 211,646.1 212,646.1 213,646.2 214,646.4 215,646.4 216,646.3 217,646.4 218,646.7 219,646.8 220,646.7 221,646.7 222,646.8 223,646.8 224,646.9 225,647.1 226,647.1 227,647.1 228,647.0 229,646.9 230,647.1 231,647.0 232,646.9 233,647.0 234,646.2 235,643.0 236,636.9 237,630.7 237.6,629.5 238,630.3 239,636.0 240,642.5 241,646.2 242,647.4 243,647.7 244,648.0 245,648.1 246,648.0 247,648.0 248,648.0 249,648.0 250,648.3 251,648.4 252,648.3 253,648.3 254,648.4 255,648.4 256,648.2 257,648.3 258,648.6 259,648.4 260,647.8 261,646.8 262,645.1 263,642.5 264,640.3 264.7,639.6 265,639.7 266,641.5 267,644.3 268,646.5 269,647.7 270,648.3 271,648.8 272,648.9 273,648.9 274,649.0 275,648.9 276,648.7 277,648.6 278,648.8 279,648.9 280,648.7 281,648.7 282,648.9 283,649.0 284,649.0 285,648.7 286,648.7 287,649.0 288,649.2 289,649.2 290,649.1 291,649.1 292,649.1 293,649.1 294,649.1 295,649.1 296,649.1 297,649.2 298,649.2 299,649.4 300,649.6 301,649.6 302,649.4 303,649.0 304,649.0 305,649.2 306,649.1 307,649.1 308,649.3 309,649.4 310,649.1 311,649.0 312,649.1 313,649.3 314,649.5 315,649.6 316,649.5 317,649.4 318,649.5 319,649.6 320,649.7 321,649.5 322,649.3 323,649.3 324,649.4 325,649.6 326,649.6 327,649.4 328,649.4 329,649.4 330,649.3 331,649.3 332,649.6 333,649.8 334,649.6 335,649.3 336,649.3 337,649.3 338,649.6 339,649.7 340,649.6 341,649.6 342,649.6 343,649.5 344,649.4 345,649.4 346,649.5 347,649.5 348,649.5 349,649.5 350,649.6 351,649.7 352,649.7 353,649.7 354,649.8 355,649.9 356,649.8 357,649.6 358,649.7 359,649.7 360,649.8 361,649.9 362,650.0 363,650.0 364,649.9 365,650.0 366,649.8 367,649.8 368,649.9 369,649.9 370,650.1 371,650.2 372,650.2 373,650.0 374,649.8 375,649.9 376,649.9 377,649.9 378,649.9 379,650.0 380,650.1 381,650.0 382,650.0 383,649.9 384,649.7 385,649.7 386,649.8 387,650.0 388,650.1 389,650.1 390,650.2 391,650.3 392,650.2 393,650.1 394,649.9 395,649.9 396,650.0 397,650.0 398,650.1 399,650.2 400,650.3 401,650.1 402,650.1 403,650.1 404,650.1 405,650.1 406,650.1 407,649.9 408,649.2 409,647.7 410,645.1 411,642.0 412,640.1 412.3,640.2 413,641.1 414,643.6 415,646.3 416,648.5 417,649.7 418,650.1 419,650.3 420,650.2 421,650.1 422,650.3 423,650.4 424,650.4 425,650.4 426,650.5 427,650.4 428,649.8 429,648.7 430,646.8 431,644.3 432,642.3 432.6,641.7 433,641.7 434,643.6 435,646.6 436,649.0 437,650.1 438,650.5 439,650.7 440,650.9 441,651.0 442,650.9 443,650.9 444,651.0 445,650.9 446,650.9 447,651.1 448,651.0 449,650.9 450,650.8 451,650.9 452,651.1 453,651.2 454,651.2 455,651.3 456,651.2 457,651.1 458,651.2 459,651.1 460,651.1 461,651.2 462,651.2 463,650.8 464,650.3 465,649.8 466,649.2 467,648.7 468,648.9 469,649.7 470,650.4 471,650.7 472,651.0 473,651.2 474,651.2 475,651.3 476,651.3 477,651.1 478,651.0 479,650.9 480,651.1 481,651.2 482,651.1 483,650.7 484,649.7 485,647.6 486,644.6 487,642.0 487.7,641.5 488,641.7 489,643.4 490,646.3 491,648.8 492,650.1 493,650.6 494,651.0 495,651.3 496,651.3 497,651.5 498,651.5 499,651.3 500,651.1 501,651.1 502,651.3 503,651.5 504,651.5 505,651.4 506,651.4 507,651.3 508,651.3 509,651.2 510,651.1 511,651.1 512,651.1 513,650.9 514,650.6 515,649.9 516,648.8 517,647.8 517.8,647.3 518,647.1 519,647.9 520,649.2 521,650.3 522,651.0 523,651.1 524,651.0 525,651.3 526,651.5 527,651.6 528,651.4 529,651.4 530,651.5 531,651.4 532,651.5 533,651.7 534,651.6 535,651.5 536,651.5 537,651.5 538,651.4 539,651.5 540,651.7 541,651.8 542,651.5 543,651.4 544,651.5 545,651.5 546,651.5 547,651.6 548,651.6 549,651.4 550,651.2 551,651.1 552,651.3 553,651.5 554,651.4 555,651.2 556,651.3 557,651.4 558,651.4 559,651.3 560,651.5 561,651.5 562,651.5 563,651.5 564,651.6 565,651.6 566,651.4 567,651.3 568,651.4 569,651.5 570,651.5 571,651.6 572,651.6 573,651.7 574,651.6 575,651.3 576,651.2 577,651.4 578,651.5 579,651.5 580,651.4 581,651.4 582,651.3 583,651.4 584,651.5 585,651.5 586,651.3 587,651.2 588,651.4 588.6,651.6 589,651.6 590,651.5 591,651.7 592,651.8 593,651.8 594,651.8 595,651.8 596,651.7 597,651.6 598,651.6 599,651.7 600,651.8 601,651.7 602,651.5 603,651.6 604,651.8 605,651.7 606,651.7 607,651.8 608,651.7 609,651.6 610,651.7 611,651.8 612,651.9 613,651.8 614,651.7 615,651.8 616,651.8 617,651.6 618,651.5 619,651.6 620,651.6 621,651.6 622,651.8 623,651.8 624,651.7 625,651.7 626,651.7 627,651.7 628,651.6 629,651.6 630,651.8 631,651.8 632,651.7 633,651.8 634,651.9 635,651.9 636,652.0 637,652.0 638,651.9 639,651.8 640,651.9 641,652.1 642,652.2 643,652.2 644,652.0 645,652.0 646,652.1 647,652.1 648,652.1 649,652.1 650,652.0 651,652.0 652,652.1 653,652.4 654,652.4 655,652.1 656,651.6 657,651.0 658,650.5 659,649.9 660,649.6 661,649.9 662,650.5 663,651.3 664,651.7 665,651.9 666,652.2 667,652.3 668,652.0 669,652.0 670,652.2 671,652.2 672,652.0 673,652.1 674,652.2 675,652.3 676,652.4 677,652.5 678,652.6 679,652.6 680,652.5 681,652.6 682,652.6 683,652.4 684,652.3 685,652.4 686,652.5 687,652.6 688,652.5 689,652.5 690,652.6 691,652.6 692,652.5 693,652.4 694,652.4 695,652.4 696,652.4 697,652.5 698,652.6 699,652.7 700,652.5 701,652.4 702,652.5 703,652.5 704,652.3 705,652.3 706,652.4 707,652.5 708,652.5 709,652.3 710,652.3 711,652.6 712,652.7 713,652.6 714,652.5 715,652.5 716,652.3 717,652.3 718,652.4 719,652.5 720,652.4 721,652.4 722,652.6 723,652.7 724,652.5 725,652.5 726,652.5 727,652.4 728,652.4 729,652.5 730,652.5 731,652.5 732,652.5 733,652.3 734,652.4 735,652.4 736,652.3 737,652.2 738,652.2 739,652.2 740,652.4 741,652.5 742,652.4 743,652.4 744,652.2 745,652.3 746,652.5 747,652.3 748,651.8 749,651.6 750,651.9 751,652.1 752,652.1 753,652.0 754,652.0 755,651.8 756,651.8 757,651.8 758,651.7 759,651.4 760,650.9 761,650.0 762,648.1 763,644.1 764,635.9 765,621.1 766,599.7 767,573.4 768,546.9 769,527.6 769.8,522.1 770,522.2 771,533.7 772,557.2 773,584.6 774,609.3 775,627.8 776,639.6 777,646.1 778,649.2 779,650.6 780,651.0 781,651.4 782,651.6 783,651.8 784,652.0 785,651.9 786,651.8 787,651.9 788,652.0 789,652.1 790,652.2 791,652.3 792,652.3 793,652.1 794,652.1 795,652.3 796,652.3 797,652.2 798,652.5 799,652.6 800,652.5 801,652.6 802,652.8 803,652.6 804,652.3 805,652.3 806,652.4 807,652.2 808,652.2 809,652.3 810,652.4 811,652.4 812,652.5 813,652.5 814,652.4 815,652.4 816,652.6 817,652.7 818,652.6 819,652.6 820,652.6 821,652.5 822,652.6 823,652.6 824,652.5 825,652.5 826,652.5 827,652.3 828,652.4 829,652.6 830,652.6 831,652.5 832,652.5 833,652.5 834,652.3 835,652.3 836,652.4 837,652.4 838,652.4 839,652.5 840,652.5 841,652.6 842,652.8 843,652.9 844,652.8 845,652.6 846,652.4 847,652.3 848,652.3 849,652.3 850,652.4 851,652.8 852,652.9 853,652.8 854,652.6 855,652.6 856,652.6 857,652.7 858,652.7 859,652.9 860,653.0 861,653.0 862,653.0 863,652.8 864,652.7 865,652.9 866,652.9 867,652.7 868,652.5 869,652.4 870,652.6 871,652.7 872,652.6 873,652.5 874,652.5 875,652.6 876,652.8 877,652.8 878,652.6 879,652.6 880,652.8 881,652.7 882,652.7 883,652.6 884,652.4 885,652.5 886,652.6 887,652.8 888,652.9 889,652.7 890,652.4 891,652.5 892,652.7 893,652.6 894,652.4 895,652.4 896,652.6 897,652.7 898,652.5 899,652.5 900,652.5 901,652.3 902,652.5 903,652.8 904,652.7 905,652.5 906,652.5 907,652.5 908,652.4 909,652.4 910,652.3 911,652.2 912,652.1 913,651.9 914,651.5 915,651.0 916,649.5 917,646.4 918,640.4 919,630.6 920,617.0 921,601.4 922,587.4 923,579.3 923.4,578.5 924,580.2 925,589.9 926,604.6 927,620.1 928,632.8 929,641.8 930,647.3 931,649.9 932,651.1 933,651.6 934,651.9 935,652.0 936,652.2 937,652.3 938,652.6 939,652.7 940,652.7 941,652.7 942,652.6 943,652.6 944,652.4 945,652.4 946,652.7 947,653.0 948,652.9 949,652.8 950,652.9 951,652.8 952,652.6 953,652.5 954,652.6 955,652.8 956,653.0 957,652.9 958,652.6 959,652.7 960,652.7 961,652.6 962,652.8 963,653.0 964,653.0 965,652.9 966,652.6 967,652.7 968,653.0 969,653.0 970,652.8 971,652.8 972,652.9 973,653.0 974,652.9 975,652.9 976,652.9 977,652.9 978,652.8 979,652.5 980,652.4 981,652.5 982,652.7 983,652.9 984,653.1 985,653.0 986,652.9 987,653.0 988,653.1 989,653.0 990,653.1 991,653.1 992,653.1 993,653.1 994,653.0 995,653.0 996,652.9 997,652.8 998,652.8 999,652.9 1000,652.9 1001,652.9 1002,652.9 1003,653.2 1004,653.3 1005,653.2 1006,653.3 1007,653.3 1008,653.3 1009,653.1 1010,652.9 1011,653.1 1012,653.0 1013,652.8 1014,652.8 1015,652.8 1016,652.8 1017,653.0 1018,653.2 1019,653.1 1020,652.8 1021,652.7 1022,652.7 1023,652.8 1024,652.9 1025,653.0 1026,652.9 1027,653.0 1028,653.2 1029,653.4 1030,653.3 1031,653.2 1032,653.1 1033,653.0 1034,653.0 1035,653.0 1036,653.0 1037,652.9 1038,652.9 1039,653.0 1040,653.1 1041,652.9 1042,652.9 1043,653.1 1044,653.1 1045,653.0 1046,653.0 1047,653.1 1048,653.3 1049,653.2 1050,652.8 1051,652.7 1052,653.0 1053,653.3 1054,653.3 1055,653.2 1056,653.0 1057,653.0 1058,653.1 1059,653.2 1060,653.1 1061,653.0 1062,653.0 1063,653.1 1064,653.1 1065,653.1 1066,653.0 1067,653.1 1068,653.3 1069,653.2 1070,653.0 1071,652.9 1072,653.0 1073,653.1 1074,653.0 1075,653.0 1076,653.2 1077,653.3 1078,653.3 1079,653.3 1080,653.4 1081,653.3 1082,653.3 1083,653.4 1084,653.4 1085,653.3 1086,653.2 1087,653.1 1088,653.0 1089,652.9 1090,653.1 1091,653.1 1092,653.1 1093,653.2 1094,653.3 1095,653.2 1096,653.1 1097,653.2 1098,653.3 1099,653.2 1100,653.4 1101,653.6 1102,653.4 1103,653.2 1104,653.2 1105,653.2 1106,652.9 1107,652.7 1108,652.9 1109,653.2 1110,653.4 1111,653.3 1112,653.0 1113,653.1 1114,653.2 1115,653.1 1116,653.1 1117,653.2 1118,653.3 1119,653.3 1120,653.4 1121,653.5 1122,653.4 1123,653.3 1124,653.5 1125,653.5 1126,653.4 1127,653.3 1128,653.3 1129,653.3 1130,653.4 1131,653.4 1132,653.3 1133,653.2 1134,653.3 1135,653.4 1136,653.4 1137,653.3 1138,653.2 1139,653.2 1140,653.1 1141,653.2 1142,653.4 1143,653.4 1144,653.2 1145,653.3 1146,653.5 1147,653.6 1148,653.4 1149,653.3 1150,653.4 1151,653.5 1152,653.5 1153,653.4 1154,653.4 1155,653.5 1156,653.4 1157,653.4 1158,653.2 1159,653.3 1160,653.4 1161,653.3 1162,653.3 1163,653.5 1164,653.4 1165,653.2 1166,653.3 1167,653.5 1168,653.5 1169,653.5 1170,653.4 1171,653.2 1172,653.2 1173,653.3 1174,653.4 1175,653.3 1176,653.3 1177,653.6 1178,653.5 1179,653.4 1180,653.6 1181,653.5 1182,653.3 1183,653.0 1184,653.1 1185,653.4 1186,653.2 1187,653.0 1188,653.1 1189,653.4 1190,653.5 1191,653.3 1192,653.3 1193,653.3 1194,653.2 1195,653.3 1196,653.4 1197,653.6 1198,653.6 1199,653.5 1200,653.4 1201,653.4 1202,653.3 1203,653.3 1204,653.5 1205,653.4 1206,653.4 1207,653.4 1208,653.4 1209,653.5 1210,653.5 1211,653.5 1212,653.4 1213,653.2 1214,653.1 1215,653.2 1216,653.4 1217,653.5 1218,653.5 1219,653.4 1220,653.5 1221,653.7 1222,653.7 1223,653.6 1224,653.5 1225,653.4 1226,653.5 1227,653.5 1228,653.5 1229,653.4 1230,653.2 1231,653.1 1232,653.1 1233,653.4 1234,653.7 1235,653.6 1236,653.3 1237,653.3 1238,653.5 1239,653.5 1240,653.4 1241,653.5 1242,653.7 1243,653.7 1244,653.7 1245,653.6 1246,653.5 1247,653.4 1248,653.4 1249,653.5 1250,653.5 1251,653.3 1252,653.3 1253,653.6 1254,653.8 1255,653.8 1256,653.6 1257,653.4 1258,653.3 1259,653.4 1260,653.3 1261,653.3 1262,653.4 1263,653.5 1264,653.4 1265,653.6 1266,653.7 1267,653.7 1268,653.7 1269,653.8 1270,653.7 1271,653.6 1272,653.6 1273,653.6 1274,653.5 1275,653.5 1276,653.6 1277,653.5 1278,653.6 1279,653.7 1280,653.6 1281,653.6 1282,653.7 1283,653.6 1284,653.3 1285,653.4 1286,653.7 1287,653.6 1288,653.3 1289,653.3 1290,653.4 1291,653.5 1292,653.6 1293,653.7 1294,653.6 1295,653.5 1296,653.7 1297,653.8 1298,653.7 1299,653.8 1300,653.8 1301,653.7 1302,653.6 1303,653.4 1304,653.5 1305,653.7 1306,653.9 1307,653.9 1308,653.9 1309,653.8 1310,653.5 1311,653.5 1312,653.6 1313,653.7 1314,653.6 1315,653.4 1316,653.4 1317,653.4 1318,653.5 1319,653.5 1320,653.6 1321,653.7 1322,653.8 1323,653.8 1324,653.5 1325,653.4 1326,653.7 1327,654.0 1328,653.9 1329,653.8 1330,653.8 1331,653.6 1332,653.5 1333,653.5 1334,653.7 1335,653.7 1336,653.8 1337,653.6 1338,653.6 1339,653.8 1340,653.6 1341,653.4 1342,653.4 1343,653.6 1344,653.9 1345,653.9 1346,653.8 1347,653.7 1348,653.8 1349,653.7 1350,653.6 1351,653.6 1352,653.8 1353,653.9 1354,653.8 1355,653.9 1356,653.9 1357,653.7 1358,653.6 1359,653.8 1360,653.8 1361,653.8 1362,653.7 1363,653.7 1364,653.7 1365,653.8 1366,653.7 1367,653.6 1368,653.6 1369,653.7 1370,653.7 1371,653.8 1372,653.7 1373,653.7 1374,653.7 1375,653.6 1376,653.4 1377,653.5 1378,653.5 1379,653.6 1380,653.8 1381,653.9 1382,654.0 1383,654.1 1384,654.0 1385,653.9 1386,654.0 1387,654.0 1388,653.8 1389,653.8 1390,653.9 1391,653.9 1392,653.9 1393,653.9 1394,653.9 1395,653.8 1396,653.8 1397,653.8 1398,653.7 1399,653.6 1400,653.8 1401,654.0 1402,653.9 1403,653.8 1404,653.8 1405,653.6 1406,653.6 1407,653.6 1408,653.7 1409,653.8 1410,653.7 1411,653.7 1412,653.5 1413,653.4 1414,653.6 1415,653.6 1416,653.2 1417,652.8 1418,652.3 1419,651.1 1420,648.6 1421,644.9 1422,640.0 1423,634.3 1424,628.8 1425,625.0 1425.7,624.4 1426,624.4 1427,627.0 1428,632.1 1429,638.1 1430,643.7 1431,647.8 1432,650.4 1433,651.9 1434,652.8 1435,653.3 1436,653.6 1437,653.7 1438,653.9 1439,653.8 1440,653.8 1441,653.8 1442,653.6 1443,653.6 1444,653.9 1445,653.9 1446,653.9 1447,653.9 1448,653.8 1449,653.8 1450,653.6 1451,653.7 1452,653.9 1453,653.8 1454,653.9 1455,654.1 1456,654.1 1457,653.9 1458,653.8 1459,653.9 1460,653.9 1461,654.0 1462,654.0 1463,654.0 1464,654.1 1465,654.2 1466,654.4 1467,654.2 1468,653.9 1469,653.9 1470,653.8 1471,653.8 1472,654.0 1473,654.0 1474,654.0 1475,654.1 1476,654.0 1477,653.9 1478,654.1 1479,654.2 1480,654.1 1481,653.8 1482,653.9 1483,654.1 1484,654.3 1485,654.3 1486,654.3 1487,654.3 1488,654.1 1489,654.1 1490,654.1 1491,654.0 1492,654.1 1493,654.1 1494,654.0 1495,654.2 1496,654.3 1497,654.2 1498,654.1 1499,654.2 1500,654.3 1501,654.3 1502,654.1 1503,654.2 1504,654.3 1505,654.2 1506,654.3 1507,654.5 1508,654.3 1509,654.1 1510,654.0 1511,654.1 1512,654.3 1513,654.2 1514,653.9 1515,654.0 1516,654.1 1517,654.2 1518,654.2 1519,654.2 1520,654.2 1521,654.2 1522,654.3 1523,654.3 1524,654.2 1525,654.2 1526,654.2 1527,654.1 1528,654.2 1529,654.3 1530,654.4 1531,654.3 1532,654.2 1533,654.2 1534,654.1 1535,654.2 1536,654.3 1537,654.2 1538,654.1 1539,654.0 1540,654.0 1541,654.2 1542,654.2 1543,654.2 1544,654.1 1545,654.2 1546,654.4 1547,654.3 1548,654.2 1549,654.3 1550,654.2 1551,654.2 1552,654.3 1553,654.2 1554,654.2 1555,654.2 1556,654.3 1557,654.3 1558,654.2 1559,654.1 1560,654.2 1561,654.4 1562,654.5 1563,654.5 1564,654.5 1565,654.3 1566,654.2 1567,654.3 1568,654.3 1569,654.4 1570,654.5 1571,654.3 1572,654.4 1573,654.6 1574,654.5 1575,654.4 1576,654.4 1577,654.4 1578,654.3 1579,654.2 1580,654.2 1581,654.3 1582,654.2 1583,654.2 1584,654.4 1585,654.3 1586,654.2 1587,654.2 1588,654.2 1589,654.1 1590,654.1 1591,654.2 1592,654.4 1593,654.4 1594,654.5 1595,654.5 1596,654.4 1597,654.3 1598,654.4 1599,654.6 1600,654.5 1601,654.4 1602,654.4 1603,654.5 1604,654.5 1605,654.4 1606,654.4 1607,654.3 1608,654.3 1609,654.5 1610,654.6 1611,654.6 1612,654.5 1613,654.4 1614,654.5 1615,654.5 1616,654.4 1617,654.5 1618,654.7 1619,654.6 1620,654.4 1621,654.3 1622,654.4 1623,654.3 1624,654.2 1625,654.2 1626,654.2 1627,654.2 1628,654.4 1629,654.6 1630,654.6 1631,654.6 1632,654.6 1633,654.7 1634,654.7 1635,654.6 1636,654.4 1637,654.4 1638,654.4 1639,654.5 1640,654.5 1641,654.4 1642,654.6 1643,654.7 1644,654.7 1645,654.6 1646,654.4 1647,654.3 1648,654.4 1649,654.6 1650,654.7 1651,654.7 1652,654.5 1653,654.5 1654,654.5 1655,654.5 1656,654.2 1657,654.2 1658,654.4 1659,654.6 1660,654.7 1661,654.6 1662,654.4 1663,654.6 1664,654.7 1665,654.6 1666,654.7 1667,654.8 1668,654.9 1669,654.8 1670,654.6 1671,654.7 1672,654.7 1673,654.8 1674,654.8 1675,654.9 1676,654.8 1677,654.7 1678,654.6 1679,654.6 1680,654.7 1681,654.7 1682,654.7 1683,654.6 1684,654.6 1685,654.7 1686,654.7 1687,654.6 1688,654.8 1689,654.7 1690,654.4 1691,654.5 1692,654.8 1693,654.8 1694,654.8 1695,654.8 1696,654.7 1697,654.6 1698,654.7 1699,654.8 1700,654.9 1701,654.9 1702,654.9 1703,654.8 1704,654.7 1705,654.8 1706,654.9 1707,654.9 1708,654.8 1709,654.7 1710,654.7 1711,654.7 1712,654.7 1713,654.7 1714,654.8 1715,654.9 1716,654.9 1717,654.9 1718,654.9 1719,654.8 1720,654.6 1721,654.6 1722,654.9 1723,655.0 1724,654.9 1725,654.7 1726,654.6 1727,654.5 1728,654.6 1729,654.6 1730,654.7 1731,654.7 1732,654.8 1733,655.1 1734,655.0 1735,654.8 1736,654.6 1737,654.4 1738,654.3 1739,654.2 1740,653.8 1741,652.7 1742,651.1 1743,648.6 1744,645.2 1745,641.2 1746,636.9 1747,632.8 1748,630.1 1748.8,629.3 1749,629.3 1750,631.1 1751,634.6 1752,638.9 1753,643.2 1754,646.8 1755,649.6 1756,651.7 1757,652.9 1758,653.8 1759,654.5 1760,654.7 1761,654.7 1762,654.7 1763,654.6 1764,654.6 1765,654.5 1766,654.5 1767,654.7 1768,654.8 1769,654.8 1770,654.7 1771,654.7 1772,654.8 1773,654.8 1774,654.8 1775,654.8 1776,654.9 1777,655.1 1778,655.2 1779,655.1 1780,655.0 1781,654.7 1782,654.7 1783,654.9 1784,655.2 1785,655.1 1786,654.7 1787,654.7 1788,654.8 1789,654.8 1790,654.9"/>
<polyline fill="none" stroke="#1616c0" stroke-width="3.3" stroke-linejoin="round" points="191,810.2 192,810.5 193,810.9 194,810.6 195,810.3 196,810.4 197,810.5 198,810.5 199,810.4 200,810.7 201,811.0 202,811.2 203,811.1 204,810.9 205,810.9 206,811.2 207,811.2 208,811.3 209,810.9 210,809.9 211,808.6 212,807.6 212.8,807.4 213,807.7 214,808.7 215,810.1 216,811.5 217,812.7 218,813.2 219,813.3 220,813.6 221,813.8 222,813.7 223,814.0 224,814.1 225,814.2 226,814.0 227,813.6 228,813.4 229,813.5 230,812.8 231,809.2 232,799.9 233,787.9 233.8,783.5 234,783.8 235,792.6 236,804.5 237,811.3 238,813.2 239,813.4 240,813.2 241,812.0 242,809.9 243,807.6 244,806.4 245,807.5 246,810.3 247,812.3 248,813.4 249,814.0 250,814.2 251,814.2 252,814.0 253,813.9 254,813.8 255,813.8 256,813.8 257,813.1 258,812.2 259,810.9 260,808.8 261,807.5 261.3,807.7 262,808.1 263,809.7 264,811.5 265,812.7 266,813.2 267,813.3 268,813.5 269,813.3 270,812.8 271,811.4 272,810.0 272.6,809.7 273,809.7 274,810.6 275,811.9 276,813.0 277,813.8 278,814.2 279,814.4 280,814.3 281,813.9 282,812.8 283,811.8 284,811.4 285,811.9 286,812.9 287,813.9 288,814.8 289,815.4 290,815.6 291,815.6 292,815.5 293,815.5 294,815.4 295,815.4 296,815.7 297,815.8 298,815.8 299,815.9 300,815.8 301,815.9 302,816.0 303,815.9 304,815.7 305,815.7 306,815.7 307,816.0 308,816.0 309,816.1 310,816.6 311,816.6 312,816.3 313,816.2 314,816.4 315,816.4 316,816.2 317,816.2 318,816.3 319,816.3 320,816.3 321,816.2 322,815.8 323,815.5 324,815.5 325,815.9 326,816.3 327,816.2 328,816.4 329,816.5 330,816.3 331,816.2 332,816.1 333,816.0 334,816.1 335,816.3 336,816.5 337,816.4 338,816.3 339,816.3 340,816.2 341,816.3 342,816.4 343,816.4 344,816.4 345,816.4 346,816.3 347,816.2 348,816.4 349,816.6 350,816.7 351,816.9 352,816.4 353,815.9 354,816.3 355,816.8 356,816.7 357,816.4 358,816.5 359,816.9 360,817.0 361,816.9 362,816.9 363,817.0 364,816.8 365,816.6 366,816.7 367,816.8 368,816.8 369,816.9 370,816.5 371,816.3 372,816.9 373,817.1 374,816.8 375,816.7 376,816.7 377,816.6 378,816.7 379,816.8 380,816.6 381,816.6 382,816.7 383,817.1 384,817.3 385,817.1 386,816.7 387,816.3 388,815.8 389,814.6 390,812.8 391,811.9 391.2,811.7 392,812.3 393,813.8 394,815.0 395,816.0 396,816.9 397,817.3 398,817.4 399,817.5 400,817.5 401,817.7 402,817.6 403,817.5 404,817.2 405,816.4 406,814.9 407,812.6 408,810.3 408.6,809.6 409,809.5 410,811.3 411,814.0 412,816.0 413,817.0 414,817.2 415,816.3 416,814.2 417,812.1 418,811.0 418.4,810.9 419,811.2 420,813.1 421,815.2 422,816.6 423,817.5 424,817.9 425,817.6 426,816.4 427,814.8 428,813.4 428.5,813.3 429,813.6 430,814.8 431,816.4 432,817.9 433,818.8 434,819.4 435,819.5 436,819.4 437,819.4 438,819.3 439,819.4 440,819.6 441,819.8 442,819.7 443,819.5 444,819.6 445,819.6 446,819.4 447,819.3 448,819.6 449,820.0 450,819.9 451,819.7 452,819.3 453,819.2 454,819.5 455,819.7 456,819.7 457,819.6 458,819.8 459,820.0 460,819.8 461,819.7 462,819.7 463,819.8 464,820.0 465,820.1 466,819.8 467,819.9 468,819.9 469,819.7 470,819.6 471,819.6 472,819.7 473,820.0 474,820.4 475,820.6 476,820.6 477,820.3 478,820.0 479,819.8 480,819.5 481,819.1 482,818.6 483,817.3 484,815.7 485,815.4 486,816.4 487,817.9 488,819.0 489,819.9 490,820.2 491,820.3 492,820.6 493,820.6 494,820.6 495,820.7 496,820.7 497,820.7 498,820.7 499,820.7 500,820.9 501,821.1 502,821.0 503,821.2 504,821.5 505,821.4 506,821.4 507,821.5 508,821.5 509,821.4 510,821.3 511,821.0 512,819.7 513,817.4 514,814.7 515,812.5 515.5,811.9 516,812.2 517,814.5 518,817.7 519,820.2 520,821.5 521,821.8 522,822.1 523,822.5 524,822.6 525,822.7 526,822.9 527,822.9 528,822.8 529,822.9 530,823.2 531,823.1 532,822.8 533,822.8 534,822.8 535,823.0 536,823.1 537,822.9 538,822.6 539,822.6 540,822.9 541,823.0 542,823.0 543,823.1 544,822.9 545,822.8 546,822.7 547,823.0 548,823.4 549,823.3 550,823.1 551,823.0 552,822.6 553,822.9 554,823.1 555,823.1 556,823.0 557,822.9 558,823.2 559,823.2 560,822.8 561,822.8 562,823.1 563,823.2 564,823.2 565,823.4 566,823.3 567,823.1 568,823.1 569,822.9 570,822.6 571,822.8 572,823.4 573,823.7 574,823.7 575,823.4 576,823.3 577,823.5 578,823.6 579,823.6 580,823.6 581,823.2 582,822.9 583,823.1 584,823.4 585,823.0 586,822.4 586.8,822.0 587,821.8 588,822.2 589,822.8 590,823.4 591,823.9 592,824.0 593,823.9 594,823.7 595,823.7 596,823.9 597,823.9 598,823.9 599,824.1 600,824.3 601,824.1 602,823.8 603,823.7 604,823.9 605,823.8 606,823.8 607,823.8 608,823.4 609,822.9 610,822.8 610.5,822.8 611,822.6 612,823.3 613,824.0 614,824.1 615,824.1 616,824.1 617,824.2 618,824.4 619,824.3 620,824.2 621,824.2 622,824.2 623,824.3 624,824.3 625,824.3 626,824.3 627,824.5 628,824.5 629,824.3 630,824.4 631,824.5 632,824.3 633,824.3 634,824.4 635,824.6 636,824.7 637,824.7 638,824.9 639,824.9 640,825.1 641,825.1 642,824.9 643,825.3 644,825.5 645,825.2 646,825.1 647,825.1 648,825.1 649,825.1 650,825.1 651,825.3 652,825.4 653,825.2 654,824.8 655,823.7 656,821.5 657,819.6 658,819.1 659,819.8 660,821.1 661,822.9 662,824.5 663,825.5 664,825.7 665,825.6 666,825.7 667,825.6 668,825.5 669,825.6 670,825.7 671,825.7 672,825.7 673,825.4 674,825.5 675,825.8 676,825.9 677,826.0 678,826.1 679,825.9 680,825.7 681,825.8 682,825.9 683,826.1 684,826.3 685,826.3 686,826.3 687,826.2 688,826.2 689,826.2 690,826.1 691,826.0 692,825.9 693,825.9 694,826.0 695,826.3 696,826.7 697,826.8 698,826.5 699,826.3 700,826.3 701,826.2 702,826.0 703,826.0 704,826.0 705,826.1 706,826.3 707,826.1 708,826.0 709,826.2 710,826.0 711,825.8 712,825.9 713,826.2 714,826.3 715,826.2 716,826.0 717,826.0 718,826.1 719,826.0 720,825.9 721,825.9 722,826.0 723,826.2 724,826.1 725,825.9 726,826.1 727,826.2 728,826.3 729,826.3 730,826.1 731,826.2 732,826.3 733,826.2 734,826.1 735,826.2 736,826.1 737,826.0 738,826.3 739,826.1 740,825.6 741,825.9 742,826.6 743,826.7 744,826.2 745,825.8 746,826.0 747,826.3 748,826.2 749,825.9 750,825.8 751,825.9 752,825.9 753,825.8 754,825.9 755,825.8 756,825.4 757,824.6 758,823.4 759,821.3 760,816.1 761,805.3 762,787.2 763,762.1 764,732.5 765,705.0 766,688.6 766.4,687.0 767,690.6 768,709.7 769,738.3 770,767.6 771,791.6 772,807.9 773,817.3 774,821.9 775,823.9 776,824.8 777,825.4 778,825.9 779,826.2 780,826.5 781,826.5 782,826.1 783,826.3 784,826.3 785,826.1 786,826.3 787,826.4 788,826.4 789,826.3 790,826.4 791,826.6 792,826.5 793,826.4 794,826.4 795,826.4 796,826.3 797,826.3 798,826.7 799,826.9 800,826.9 801,826.8 802,826.8 803,826.9 804,826.8 805,826.7 806,827.0 807,827.0 808,826.8 809,826.5 810,826.5 811,826.3 812,826.5 813,826.9 814,827.1 815,826.9 816,826.6 817,826.6 818,826.6 819,826.7 820,826.8 821,826.7 822,826.6 823,826.6 824,826.7 825,826.8 826,826.6 827,826.7 828,827.0 829,827.2 830,827.2 831,826.9 832,826.6 833,826.6 834,827.1 835,827.4 836,827.4 837,827.3 838,827.0 839,827.1 840,827.2 841,827.1 842,827.1 843,827.2 844,827.3 845,827.3 846,827.0 847,826.7 848,826.5 849,826.6 850,826.9 851,827.0 852,827.1 853,827.1 854,826.8 855,826.7 856,827.0 857,827.1 858,826.9 859,827.1 860,827.6 861,827.7 862,827.6 863,827.5 864,827.3 865,827.2 866,827.3 867,827.2 868,827.1 869,827.2 870,827.3 871,827.3 872,827.4 873,827.6 874,827.3 875,827.2 876,827.3 877,827.2 878,827.1 879,827.0 880,826.7 881,826.8 882,827.0 883,827.2 884,827.5 885,827.7 886,827.8 887,827.9 888,827.7 889,827.5 890,827.5 891,827.2 892,827.4 893,827.7 894,827.5 895,827.1 896,827.2 897,827.5 898,827.7 899,827.5 900,827.0 901,826.9 902,827.1 903,827.1 904,827.3 905,827.4 906,827.4 907,827.4 908,827.5 909,827.5 910,827.2 911,827.0 912,827.0 913,826.4 914,824.8 915,821.6 916,816.0 917,807.5 918,795.8 919,782.9 920,772.3 921,766.9 921.2,766.8 922,769.6 923,778.6 924,790.7 925,803.1 926,813.3 927,819.6 928,823.1 929,825.5 930,826.6 931,826.8 932,826.4 933,825.9 934,825.4 935,824.8 936,824.4 937,824.4 938,824.6 939,825.0 940,825.9 941,826.7 942,826.9 943,827.0 944,827.5 945,827.9 946,828.0 947,828.2 948,828.2 949,828.5 950,828.6 951,828.6 952,828.8 953,828.8 954,828.5 955,828.4 956,828.7 957,829.1 958,828.9 959,828.7 960,829.0 961,829.3 962,829.0 963,828.6 964,828.4 965,828.4 966,828.7 967,828.9 968,829.0 969,828.6 970,828.5 971,828.6 972,828.8 973,829.0 974,828.9 975,829.1 976,829.2 977,829.1 978,829.2 979,829.1 980,828.9 981,828.9 982,829.2 983,829.2 984,829.0 985,829.2 986,829.2 987,829.1 988,829.2 989,829.3 990,829.4 991,829.4 992,829.5 993,829.8 994,829.8 995,829.2 996,829.0 997,829.3 998,829.5 999,829.7 1000,830.0 1001,830.0 1002,829.8 1003,829.7 1004,829.5 1005,829.6 1006,829.9 1007,829.7 1008,829.5 1009,829.6 1010,829.7 1011,829.8 1012,829.5 1013,829.4 1014,829.5 1015,829.5 1016,829.5 1017,829.7 1018,829.5 1019,829.4 1020,829.8 1021,830.2 1022,830.4 1023,830.3 1024,829.7 1025,829.5 1026,829.8 1027,829.8 1028,829.6 1029,829.7 1030,829.8 1031,829.6 1032,829.7 1033,829.9 1034,829.8 1035,829.8 1036,829.6 1037,829.3 1038,829.4 1039,829.6 1040,829.6 1041,829.7 1042,829.8 1043,829.8 1044,829.7 1045,829.6 1046,829.6 1047,829.5 1048,829.7 1049,829.7 1050,829.5 1051,829.4 1052,829.3 1053,829.5 1054,829.8 1055,829.9 1056,829.9 1057,829.6 1058,829.5 1059,829.6 1060,829.6 1061,829.6 1062,829.6 1063,829.8 1064,830.0 1065,829.9 1066,829.7 1067,829.6 1068,829.4 1069,829.3 1070,829.4 1071,829.4 1072,829.4 1073,829.6 1074,829.6 1075,829.4 1076,829.6 1077,829.8 1078,829.9 1079,830.0 1080,830.4 1081,830.3 1082,829.8 1083,829.7 1084,829.6 1085,829.4 1086,829.6 1087,829.9 1088,829.8 1089,829.8 1090,830.1 1091,830.1 1092,830.1 1093,830.3 1094,830.1 1095,829.7 1096,829.5 1097,829.7 1098,830.0 1099,830.2 1100,830.2 1101,829.9 1102,829.8 1103,830.0 1104,829.9 1105,829.6 1106,829.6 1107,829.9 1108,830.1 1109,830.0 1110,830.0 1111,830.0 1112,829.7 1113,829.9 1114,830.3 1115,830.2 1116,829.9 1117,830.1 1118,830.3 1119,830.1 1120,830.0 1121,830.0 1122,829.8 1123,829.7 1124,829.7 1125,829.7 1126,829.9 1127,829.9 1128,829.8 1129,830.0 1130,830.3 1131,830.2 1132,830.1 1133,830.0 1134,829.8 1135,829.8 1136,830.0 1137,830.3 1138,830.6 1139,830.5 1140,830.0 1141,829.8 1142,829.5 1143,829.6 1144,830.1 1145,830.0 1146,829.7 1147,830.1 1148,830.5 1149,830.4 1150,830.2 1151,830.0 1152,829.8 1153,829.6 1154,829.8 1155,830.0 1156,830.1 1157,830.3 1158,830.5 1159,830.4 1160,830.3 1161,829.9 1162,830.0 1163,830.5 1164,830.6 1165,830.4 1166,830.0 1167,829.8 1168,830.0 1169,829.8 1170,829.8 1171,830.0 1172,830.2 1173,830.4 1174,830.1 1175,829.9 1176,829.9 1177,829.9 1178,830.0 1179,830.0 1180,829.8 1181,829.8 1182,829.8 1183,830.1 1184,830.4 1185,830.4 1186,830.3 1187,830.4 1188,830.6 1189,830.7 1190,830.4 1191,830.1 1192,830.0 1193,830.0 1194,830.0 1195,830.2 1196,830.4 1197,830.4 1198,830.3 1199,830.2 1200,830.0 1201,829.8 1202,829.6 1203,829.7 1204,830.3 1205,830.5 1206,830.2 1207,830.0 1208,830.0 1209,829.9 1210,830.1 1211,830.1 1212,829.7 1213,829.6 1214,829.8 1215,830.0 1216,830.2 1217,830.3 1218,830.3 1219,830.4 1220,830.6 1221,830.7 1222,830.6 1223,830.3 1224,829.9 1225,829.8 1226,830.1 1227,830.2 1228,830.4 1229,830.7 1230,830.6 1231,830.4 1232,830.2 1233,830.2 1234,830.5 1235,830.6 1236,830.5 1237,830.2 1238,830.2 1239,830.4 1240,830.4 1241,830.2 1242,830.5 1243,830.6 1244,830.3 1245,830.3 1246,830.6 1247,830.7 1248,830.7 1249,830.7 1250,830.6 1251,830.2 1252,830.0 1253,830.2 1254,830.4 1255,830.4 1256,830.5 1257,830.6 1258,830.6 1259,830.7 1260,830.7 1261,830.5 1262,830.5 1263,830.3 1264,830.4 1265,830.5 1266,830.2 1267,830.0 1268,830.2 1269,830.4 1270,830.4 1271,830.3 1272,830.1 1273,830.0 1274,830.5 1275,830.8 1276,830.3 1277,830.1 1278,830.4 1279,830.1 1280,829.5 1281,829.7 1282,830.0 1283,830.3 1284,830.9 1285,830.9 1286,830.5 1287,830.6 1288,830.7 1289,830.5 1290,830.5 1291,830.5 1292,830.6 1293,830.6 1294,830.5 1295,830.7 1296,830.9 1297,830.9 1298,830.6 1299,830.4 1300,830.5 1301,830.6 1302,830.5 1303,830.6 1304,830.9 1305,830.8 1306,830.7 1307,830.7 1308,830.7 1309,830.7 1310,830.3 1311,830.2 1312,830.5 1313,830.7 1314,830.9 1315,831.1 1316,831.4 1317,831.2 1318,830.9 1319,830.7 1320,830.4 1321,830.4 1322,830.5 1323,830.3 1324,829.9 1325,830.0 1326,830.5 1327,830.6 1328,830.5 1329,830.5 1330,830.4 1331,830.5 1332,830.7 1333,830.7 1334,830.6 1335,830.3 1336,830.1 1337,830.3 1338,830.4 1339,830.3 1340,830.4 1341,830.6 1342,830.8 1343,831.0 1344,830.9 1345,830.6 1346,830.8 1347,831.0 1348,830.8 1349,830.6 1350,830.6 1351,830.8 1352,830.9 1353,830.9 1354,830.9 1355,831.1 1356,830.7 1357,830.4 1358,830.6 1359,830.9 1360,830.9 1361,830.6 1362,830.5 1363,830.5 1364,830.3 1365,830.3 1366,830.7 1367,830.9 1368,830.6 1369,830.4 1370,830.5 1371,830.6 1372,830.7 1373,830.7 1374,830.6 1375,830.4 1376,830.1 1377,830.1 1378,830.3 1379,830.7 1380,831.0 1381,830.9 1382,830.6 1383,830.4 1384,830.6 1385,830.7 1386,831.1 1387,831.4 1388,831.1 1389,830.9 1390,830.8 1391,830.4 1392,830.3 1393,830.5 1394,830.8 1395,830.9 1396,831.0 1397,830.9 1398,830.6 1399,830.4 1400,830.6 1401,830.6 1402,830.5 1403,830.7 1404,830.6 1405,830.5 1406,830.6 1407,830.6 1408,830.7 1409,830.9 1410,830.8 1411,830.6 1412,830.4 1413,830.2 1414,830.2 1415,829.9 1416,828.8 1417,827.0 1418,824.6 1419,821.1 1420,816.9 1421,813.0 1422,810.0 1423,808.0 1423.4,807.8 1424,808.3 1425,810.5 1426,814.0 1427,818.0 1428,822.0 1429,825.5 1430,827.5 1431,828.5 1432,829.3 1433,829.9 1434,830.3 1435,830.4 1436,830.9 1437,831.4 1438,831.2 1439,830.8 1440,830.7 1441,830.7 1442,830.9 1443,831.1 1444,830.8 1445,830.7 1446,830.9 1447,831.2 1448,831.5 1449,831.4 1450,830.9 1451,830.6 1452,831.0 1453,831.4 1454,831.3 1455,830.8 1456,830.8 1457,831.4 1458,831.7 1459,831.5 1460,831.3 1461,831.3 1462,831.0 1463,830.7 1464,830.9 1465,831.2 1466,831.4 1467,831.2 1468,830.9 1469,831.0 1470,831.1 1471,830.9 1472,830.9 1473,831.1 1474,831.1 1475,830.9 1476,830.8 1477,830.9 1478,831.1 1479,831.0 1480,831.1 1481,831.2 1482,831.1 1483,831.0 1484,831.4 1485,831.5 1486,831.3 1487,831.1 1488,831.2 1489,831.0 1490,830.7 1491,831.2 1492,831.5 1493,831.4 1494,831.4 1495,831.6 1496,831.4 1497,831.2 1498,831.3 1499,831.3 1500,831.2 1501,831.3 1502,831.4 1503,831.3 1504,831.4 1505,831.4 1506,831.2 1507,831.2 1508,831.3 1509,831.2 1510,831.1 1511,831.1 1512,831.3 1513,831.5 1514,831.4 1515,831.3 1516,831.4 1517,831.4 1518,831.3 1519,831.3 1520,831.3 1521,831.3 1522,831.3 1523,831.1 1524,830.9 1525,831.1 1526,831.1 1527,831.3 1528,831.5 1529,831.4 1530,831.3 1531,831.4 1532,831.4 1533,831.2 1534,831.2 1535,831.6 1536,831.8 1537,831.7 1538,831.5 1539,831.4 1540,831.4 1541,831.3 1542,831.2 1543,831.3 1544,831.1 1545,830.9 1546,831.2 1547,831.5 1548,831.6 1549,831.4 1550,831.2 1551,831.2 1552,831.3 1553,831.2 1554,831.4 1555,831.6 1556,831.4 1557,831.5 1558,831.8 1559,831.6 1560,831.3 1561,831.5 1562,831.6 1563,831.4 1564,831.2 1565,831.5 1566,831.8 1567,832.1 1568,831.9 1569,831.6 1570,831.7 1571,831.7 1572,831.6 1573,831.7 1574,831.9 1575,831.9 1576,831.7 1577,831.5 1578,831.4 1579,831.4 1580,831.6 1581,831.7 1582,831.9 1583,831.9 1584,831.7 1585,831.8 1586,831.9 1587,831.9 1588,831.7 1589,831.6 1590,831.9 1591,831.9 1592,831.6 1593,831.6 1594,831.8 1595,831.8 1596,831.6 1597,831.6 1598,831.7 1599,831.9 1600,831.8 1601,831.7 1602,831.8 1603,832.2 1604,832.2 1605,831.8 1606,831.6 1607,831.6 1608,831.5 1609,831.7 1610,831.9 1611,832.0 1612,832.3 1613,832.4 1614,832.0 1615,831.9 1616,832.1 1617,832.0 1618,831.6 1619,831.5 1620,831.5 1621,831.4 1622,831.6 1623,831.9 1624,831.8 1625,831.8 1626,831.9 1627,832.0 1628,832.1 1629,831.9 1630,831.7 1631,831.7 1632,831.9 1633,832.1 1634,832.1 1635,832.0 1636,831.9 1637,831.9 1638,831.9 1639,831.8 1640,831.7 1641,831.7 1642,831.8 1643,831.9 1644,831.9 1645,832.1 1646,832.0 1647,831.5 1648,831.4 1649,831.7 1650,831.8 1651,832.0 1652,832.2 1653,832.1 1654,832.0 1655,832.1 1656,832.2 1657,832.2 1658,832.5 1659,832.5 1660,832.2 1661,832.2 1662,832.3 1663,832.1 1664,832.2 1665,832.2 1666,832.0 1667,832.0 1668,832.1 1669,832.1 1670,832.3 1671,832.4 1672,832.6 1673,832.4 1674,832.1 1675,832.0 1676,832.1 1677,832.3 1678,832.2 1679,831.9 1680,832.0 1681,832.2 1682,832.1 1683,832.1 1684,832.4 1685,832.4 1686,832.1 1687,832.1 1688,831.9 1689,831.9 1690,832.0 1691,832.0 1692,832.0 1693,831.9 1694,832.2 1695,832.5 1696,832.6 1697,832.6 1698,832.3 1699,832.1 1700,832.5 1701,832.6 1702,832.4 1703,832.1 1704,832.0 1705,831.9 1706,832.1 1707,832.2 1708,832.2 1709,832.0 1710,831.8 1711,831.8 1712,832.0 1713,832.2 1714,832.1 1715,832.1 1716,832.2 1717,832.1 1718,832.2 1719,832.4 1720,832.2 1721,832.1 1722,832.3 1723,832.5 1724,832.3 1725,832.1 1726,832.3 1727,832.3 1728,832.3 1729,832.3 1730,832.3 1731,832.5 1732,832.5 1733,832.3 1734,832.1 1735,831.9 1736,831.6 1737,831.2 1738,830.2 1739,828.8 1740,826.8 1741,824.5 1742,821.6 1743,818.4 1744,815.8 1745,814.0 1746,813.1 1747,813.9 1748,816.0 1749,818.9 1750,821.7 1751,824.2 1752,826.4 1753,828.5 1754,830.1 1755,830.9 1756,831.6 1757,832.4 1758,832.5 1759,832.4 1760,832.7 1761,832.5 1762,832.2 1763,832.4 1764,832.6 1765,832.4 1766,832.2 1767,832.4 1768,832.3 1769,832.4 1770,832.8 1771,832.7 1772,832.4 1773,832.4 1774,832.7 1775,832.8 1776,832.6 1777,832.5 1778,832.4 1779,832.2 1780,832.1 1781,832.5 1782,832.7 1783,832.7 1784,832.8 1785,832.8 1786,832.8 1787,832.7 1788,832.5 1789,832.5 1790,832.6"/>
<polyline fill="none" stroke="#ff0000" stroke-width="4.8" stroke-linejoin="round" points="190,971.0 191,971.1 192,972.3 193,973.7 194,974.6 195,974.2 196,973.7 197,974.2 198,975.9 199,977.0 200,976.2 201,975.1 202,976.0 203,978.0 204,977.4 205,976.2 206,976.5 207,973.4 208,963.8 209,948.4 209.9,941.3 210,942.2 211,953.2 212,969.0 213,978.7 214,981.6 215,981.1 216,982.0 217,982.5 218,983.2 219,983.3 220,984.5 221,985.1 222,985.0 223,984.9 224,985.4 225,985.2 226,985.6 227,986.7 228,987.0 229,988.6 230,988.5 231,987.2 232,988.2 233,988.3 234,989.1 235,989.1 236,987.9 237,988.1 238,985.5 239,972.8 240,944.1 241,919.4 241.3,916.9 242,926.3 243,957.1 244,981.2 245,990.0 246,992.7 247,992.4 248,992.3 249,992.2 250,991.5 251,991.9 252,992.7 253,991.9 254,991.9 255,992.1 256,992.2 257,991.7 258,991.7 259,992.1 260,991.8 261,991.5 262,992.0 263,990.8 264,990.3 265,990.9 266,992.2 267,991.6 268,990.8 269,990.9 270,991.6 271,990.8 272,990.8 273,991.7 274,991.0 275,991.2 276,991.5 277,991.3 278,991.7 279,992.1 280,989.4 281,983.1 282,970.5 283,954.2 284,945.5 285,954.9 286,971.8 287,984.0 288,989.0 289,990.7 290,991.4 291,991.3 292,991.9 293,992.9 294,991.6 295,990.4 296,991.9 297,991.1 298,989.8 299,989.9 300,988.1 301,984.9 302,981.2 303,977.2 304,974.9 305,974.1 306,974.7 307,978.3 308,982.5 309,984.1 310,986.5 311,987.4 312,987.3 313,987.5 314,988.4 315,988.6 316,988.1 317,988.3 318,988.7 319,988.6 320,988.7 321,988.3 322,988.4 323,988.9 324,987.9 325,987.0 326,986.3 327,984.3 328,983.1 329,982.2 330,980.5 331,979.2 331.7,977.4 332,976.8 333,979.5 334,980.5 335,980.5 336,982.3 337,981.1 338,977.9 339,975.8 340,973.9 341,973.3 341.4,972.1 342,972.5 343,975.2 344,978.5 345,981.8 346,985.5 347,988.1 348,988.6 349,988.0 350,988.2 351,989.2 352,989.3 353,989.2 354,989.6 355,992.2 356,991.8 357,990.7 358,991.8 359,991.6 360,989.4 361,990.0 362,990.8 363,991.5 364,991.2 365,990.9 366,991.5 367,993.1 368,993.2 369,991.1 370,991.1 371,992.8 372,991.0 373,990.5 374,991.1 375,991.4 376,990.5 377,984.9 378,971.6 379,953.6 380,942.7 380.1,943.3 381,950.1 382,967.4 383,982.2 384,989.8 385,990.4 386,989.5 387,990.5 388,991.7 389,992.3 390,991.4 391,992.2 392,992.4 393,991.4 394,991.9 395,993.4 396,992.9 397,989.1 398,980.1 399,966.0 400,954.0 400.3,952.8 401,956.5 402,971.1 403,984.6 404,992.0 405,992.7 406,993.6 407,993.7 408,993.1 409,993.0 410,991.4 411,992.7 412,993.3 413,991.6 414,992.5 415,994.2 416,993.0 417,990.1 418,985.0 419,977.4 420,971.9 420.4,971.2 421,972.2 422,979.6 423,988.5 424,994.6 425,996.5 426,997.1 427,996.7 428,996.1 429,996.9 430,998.2 431,998.0 432,997.1 433,996.9 434,998.0 435,998.2 436,998.3 437,998.5 438,999.1 439,999.6 440,1000.2 441,1000.6 442,1000.9 443,1000.4 444,999.6 445,999.8 446,1000.2 447,1000.1 448,1000.8 449,1001.1 450,999.7 451,999.4 452,1001.2 453,1001.3 454,1001.2 455,1000.7 456,1002.3 457,1002.3 458,1001.4 459,1001.3 460,1001.6 461,1001.6 462,1001.4 463,1000.8 464,1001.6 465,1000.7 466,1000.0 467,998.9 468,997.3 469,998.1 470,997.6 471,997.3 472,997.0 473,995.9 474,993.8 475,986.4 476,976.7 477,972.0 478,977.5 479,986.8 480,992.0 481,994.2 482,995.9 483,995.5 484,996.2 485,996.1 486,995.7 487,995.8 488,995.0 489,989.1 490,976.7 491,966.0 491.5,964.8 492,965.4 493,976.6 494,989.4 495,996.5 496,999.6 497,1000.6 498,1000.7 499,1001.3 500,999.8 501,1000.9 502,1003.4 503,1003.4 504,1002.9 505,1003.1 506,1003.7 507,1003.1 508,1002.2 509,1001.4 510,1001.8 511,1001.7 512,1001.6 513,1001.7 514,1002.2 515,1002.5 516,1002.8 517,1001.8 518,1002.6 519,1004.0 520,1003.4 521,1003.8 522,1004.1 523,1004.1 524,1003.2 525,1001.5 526,1000.9 527,998.8 528,995.1 529,992.7 529.4,992.0 530,992.4 531,996.1 532,999.0 533,1000.0 534,1000.2 535,1000.5 536,1000.5 537,1000.4 538,1000.4 539,1000.1 540,1000.5 541,1000.5 542,999.9 543,998.9 544,998.7 545,999.1 546,998.7 547,997.8 548,995.8 549,995.5 550,997.3 551,998.6 552,999.1 553,997.2 554,992.1 555,982.9 556,973.2 556.8,971.2 557,971.3 558,978.3 559,988.3 560,994.4 561,992.9 562,982.7 563,969.9 564,963.9 565,971.5 566,986.2 567,997.0 568,1003.6 569,1006.1 570,1006.9 571,1007.1 572,1006.2 573,1007.0 574,1007.7 575,1006.5 576,1006.2 577,1006.0 578,1006.0 579,1005.0 580,1003.9 581,999.2 582,995.3 582.6,996.5 583,997.0 584,999.3 585,1002.7 586,1004.6 587,1005.7 588,1006.8 589,1007.2 590,1007.1 591,1006.4 592,1005.8 593,1006.1 594,1007.1 595,1007.2 596,1005.9 597,1005.7 598,1006.3 599,1005.3 600,1002.5 601,998.8 602,997.7 603,999.2 604,1001.7 605,1003.3 606,1005.7 607,1006.0 608,1005.0 609,1002.0 610,996.1 611,984.1 612,970.7 612.5,969.5 613,971.9 614,983.4 615,996.3 616,1002.9 617,1005.7 618,1005.8 619,1005.0 620,1003.4 621,997.9 622,991.2 623,986.6 624,989.8 625,997.3 626,1002.6 627,1004.9 628,1005.7 629,1005.2 630,1005.4 631,1005.1 632,1006.1 633,1006.2 634,1006.4 635,1007.6 636,1008.6 637,1007.1 638,1006.3 639,1005.7 640,1004.0 640.7,1004.6 641,1004.2 642,1005.7 643,1008.6 644,1011.2 645,1011.8 646,1011.9 647,1011.7 648,1010.9 649,1011.9 650,1013.9 651,1014.0 652,1013.6 653,1013.3 654,1012.7 655,1012.6 656,1011.8 657,1010.8 658,1007.7 659,1004.7 660,1003.6 661,1005.0 662,1008.7 663,1011.4 664,1012.9 665,1013.4 666,1011.8 667,1011.6 668,1013.2 669,1014.2 670,1014.8 671,1014.2 672,1013.6 673,1012.9 674,1013.6 675,1013.6 676,1012.5 677,1012.4 678,1013.1 679,1012.9 680,1011.5 681,1012.9 682,1013.7 683,1013.6 684,1013.9 685,1013.9 686,1013.3 687,1013.8 688,1013.6 689,1013.2 690,1014.2 691,1014.8 692,1013.0 693,1012.2 694,1013.1 695,1015.2 696,1014.5 697,1014.0 698,1013.6 699,1013.1 700,1012.9 701,1014.2 702,1014.3 703,1013.0 704,1013.3 705,1013.9 706,1014.6 707,1015.2 708,1015.9 709,1016.2 710,1016.1 711,1015.4 712,1012.7 713,1009.6 714,1004.7 715,998.0 715.8,995.0 716,993.8 717,998.6 718,1007.4 719,1012.8 720,1014.9 721,1015.3 722,1015.2 723,1016.7 724,1017.9 725,1018.3 726,1017.3 727,1016.6 728,1016.5 729,1018.0 730,1018.4 731,1017.2 732,1017.2 733,1017.2 734,1016.3 735,1015.3 736,1016.6 737,1017.3 738,1016.3 739,1015.7 740,1015.2 741,1017.7 742,1018.1 743,1017.6 744,1017.2 745,1017.0 746,1017.3 747,1017.3 748,1017.4 749,1017.6 750,1018.1 751,1018.5 752,1017.1 753,1017.4 754,1017.1 755,1016.3 756,1016.0 757,1017.3 758,1016.9 759,1016.5 760,1015.4 761,1010.7 762,1003.7 763,995.2 764,990.4 764.2,990.2 765,991.8 766,1000.0 767,1007.2 768,1010.8 769,1011.1 770,1009.9 771,1007.9 771.5,1008.6 772,1009.5 773,1010.9 774,1014.0 775,1015.3 776,1017.1 777,1018.0 778,1018.4 779,1018.5 780,1019.1 781,1019.5 782,1019.5 783,1020.7 784,1020.9 785,1019.5 786,1020.3 787,1020.5 788,1020.9 789,1022.2 790,1021.7 791,1020.8 792,1020.0 793,1019.0 794,1020.2 795,1020.1 796,1020.4 797,1020.7 798,1021.6 799,1022.3 800,1021.9 801,1021.6 802,1020.8 803,1021.0 804,1020.9 805,1020.3 806,1021.6 807,1020.4 808,1020.0 809,1022.0 810,1022.4 811,1020.6 812,1020.9 813,1022.8 814,1021.2 815,1019.4 816,1020.4 817,1022.2 818,1021.9 819,1021.6 820,1020.8 821,1017.4 822,1010.7 823,1003.8 823.9,1002.1 824,1001.8 825,1006.3 826,1014.1 827,1018.8 828,1020.8 829,1021.8 830,1022.7 831,1022.6 832,1021.6 833,1022.5 834,1023.8 835,1023.3 836,1022.1 837,1021.6 838,1021.1 839,1022.2 840,1023.9 841,1023.2 842,1022.4 843,1022.5 844,1022.7 845,1022.3 846,1021.1 847,1019.5 848,1018.5 849,1016.9 850,1014.4 850.5,1014.2 851,1015.0 852,1015.2 853,1017.4 854,1020.0 855,1022.0 856,1022.8 857,1023.2 858,1023.8 859,1023.1 860,1022.4 861,1022.7 862,1024.0 863,1023.5 864,1024.5 865,1025.2 866,1025.2 867,1024.5 868,1024.2 869,1024.4 870,1024.0 871,1024.0 872,1025.1 873,1024.8 874,1025.8 875,1025.1 876,1023.8 877,1023.2 878,1021.3 879,1016.8 880,1013.2 881,1010.6 882,1010.4 883,1011.9 884,1014.4 885,1017.3 886,1020.7 887,1024.0 888,1025.4 889,1025.0 890,1024.6 891,1025.6 892,1025.9 893,1026.2 894,1027.0 895,1026.4 896,1025.1 897,1025.2 898,1026.6 899,1026.5 900,1026.5 901,1025.9 902,1025.4 903,1026.3 904,1027.2 905,1026.4 906,1025.3 907,1025.5 908,1025.7 909,1026.3 910,1027.3 911,1027.6 912,1026.4 913,1025.3 914,1024.8 915,1023.5 916,1021.4 917,1019.5 918,1017.5 919,1016.4 920,1017.9 921,1019.3 922,1021.1 923,1023.6 924,1025.1 925,1026.9 926,1026.8 927,1026.3 928,1025.8 929,1026.1 930,1026.7 931,1026.3 932,1026.2 933,1025.0 934,1025.7 935,1025.8 936,1024.4 937,1022.5 938,1020.7 939,1018.0 940,1017.1 941,1018.7 942,1021.2 943,1022.8 944,1024.1 945,1025.6 946,1026.2 947,1025.1 948,1024.3 949,1025.1 950,1025.4 951,1025.8 952,1025.7 953,1026.1 954,1026.9 955,1027.0 956,1027.2 957,1027.9 958,1026.9 959,1026.9 960,1027.4 961,1026.2 962,1026.0 963,1027.6 964,1027.6 965,1027.6 966,1027.8 967,1027.7 968,1027.0 969,1026.7 970,1026.4 971,1027.0 972,1027.2 973,1027.0 974,1028.0 975,1028.7 976,1026.9 977,1027.0 978,1027.0 979,1026.1 980,1024.6 981,1024.5 982,1023.7 983,1022.6 983.7,1022.4 984,1022.8 985,1023.7 986,1024.7 987,1025.9 988,1025.6 989,1026.2 990,1026.6 991,1027.4 992,1027.3 993,1026.8 994,1026.4 995,1026.9 996,1027.8 997,1028.6 998,1028.1 999,1027.0 1000,1027.1 1001,1027.5 1002,1027.5 1003,1027.7 1004,1028.0 1005,1027.7 1006,1026.8 1007,1026.3 1008,1026.7 1009,1026.5 1010,1027.2 1011,1027.4 1012,1026.8 1013,1027.1 1014,1027.6 1015,1028.4 1016,1027.6 1017,1026.6 1018,1027.4 1019,1027.6 1020,1027.3 1021,1027.2 1022,1027.7 1023,1027.9 1024,1027.5 1025,1026.9 1026,1026.8 1027,1026.2 1028,1026.2 1029,1026.7 1030,1026.7 1031,1027.5 1032,1028.8 1033,1028.2 1034,1027.0 1035,1026.5 1036,1026.8 1037,1026.6 1038,1026.5 1039,1027.5 1040,1027.4 1041,1028.0 1042,1028.9 1043,1027.9 1044,1027.4 1045,1027.3 1046,1027.0 1047,1026.7 1048,1027.1 1049,1027.6 1050,1027.0 1051,1026.3 1052,1026.2 1053,1026.5 1054,1027.1 1055,1027.4 1056,1027.6 1057,1027.7 1058,1027.3 1059,1027.5 1060,1027.5 1061,1027.2 1062,1026.6 1063,1027.2 1064,1026.5 1065,1026.5 1066,1027.2 1067,1027.3 1068,1027.8 1069,1027.3 1070,1026.7 1071,1027.0 1072,1027.2 1073,1027.9 1074,1028.1 1075,1027.6 1076,1027.0 1077,1027.2 1078,1027.4 1079,1026.7 1080,1026.7 1081,1027.2 1082,1027.2 1083,1026.7 1084,1026.2 1085,1025.9 1086,1026.6 1087,1026.1 1088,1025.4 1089,1025.3 1090,1025.7 1091,1026.5 1092,1026.2 1093,1025.8 1094,1026.8 1095,1026.8 1096,1025.8 1097,1025.5 1098,1026.5 1099,1026.5 1100,1026.6 1101,1026.8 1102,1027.5 1103,1027.8 1104,1027.5 1105,1027.2 1106,1027.3 1107,1027.2 1108,1026.8 1109,1027.4 1110,1027.3 1111,1027.3 1112,1027.5 1113,1027.8 1114,1028.1 1115,1028.2 1116,1027.4 1117,1027.1 1118,1027.3 1119,1027.4 1120,1027.6 1121,1027.4 1122,1027.6 1123,1028.1 1124,1028.1 1125,1028.0 1126,1028.3 1127,1028.1 1128,1027.3 1129,1027.7 1130,1027.8 1131,1027.6 1132,1027.6 1133,1027.8 1134,1028.0 1135,1028.2 1136,1028.6 1137,1028.4 1138,1027.8 1139,1027.8 1140,1028.1 1141,1027.9 1142,1028.1 1143,1028.4 1144,1028.6 1145,1028.6 1146,1028.7 1147,1028.3 1148,1028.3 1149,1028.1 1150,1028.3 1151,1028.3 1152,1027.7 1153,1027.4 1154,1028.4 1155,1028.7 1156,1028.4 1157,1028.2 1158,1028.3 1159,1028.6 1160,1028.7 1161,1029.0 1162,1028.7 1163,1028.4 1164,1028.7 1165,1028.5 1166,1028.5 1167,1028.0 1168,1028.4 1169,1028.8 1170,1028.6 1171,1028.8 1172,1029.0 1173,1029.1 1174,1029.5 1175,1029.0 1176,1028.8 1177,1028.6 1178,1028.1 1179,1028.3 1180,1029.0 1181,1029.1 1182,1029.5 1183,1029.2 1184,1029.2 1185,1029.5 1186,1029.6 1187,1029.7 1188,1029.1 1189,1029.3 1190,1029.6 1191,1029.7 1192,1029.9 1193,1029.8 1194,1029.4 1195,1029.3 1196,1029.7 1197,1029.7 1198,1030.0 1199,1030.1 1200,1029.7 1201,1029.2 1202,1029.5 1203,1029.8 1204,1029.7 1205,1030.0 1206,1029.8 1207,1029.6 1208,1029.4 1209,1029.7 1210,1030.0 1211,1029.6 1212,1029.4 1213,1029.5 1214,1029.7 1215,1029.2 1216,1029.4 1217,1030.1 1218,1030.3 1219,1029.9 1220,1029.8 1221,1029.3 1222,1029.8 1223,1029.8 1224,1029.2 1225,1029.0 1226,1029.4 1227,1029.9 1228,1030.0 1229,1030.0 1230,1030.2 1231,1030.0 1232,1029.4 1233,1029.5 1234,1029.8 1235,1030.1 1236,1030.0 1237,1030.2 1238,1030.3 1239,1030.7 1240,1030.2 1241,1029.9 1242,1029.9 1243,1030.3 1244,1030.8 1245,1030.0 1246,1029.6 1247,1029.9 1248,1030.1 1249,1029.8 1250,1030.3 1251,1030.4 1252,1030.0 1253,1029.9 1254,1029.7 1255,1029.8 1256,1029.9 1257,1030.6 1258,1030.8 1259,1030.2 1260,1029.9 1261,1029.4 1262,1029.8 1263,1030.2 1264,1030.3 1265,1030.3 1266,1030.5 1267,1030.3 1268,1030.3 1269,1030.5 1270,1029.6 1271,1029.5 1272,1029.8 1273,1029.8 1274,1029.9 1275,1030.0 1276,1030.0 1277,1030.2 1278,1030.5 1279,1030.4 1280,1030.2 1281,1029.9 1282,1029.8 1283,1030.2 1284,1030.7 1285,1030.7 1286,1030.9 1287,1031.0 1288,1030.8 1289,1030.4 1290,1030.8 1291,1031.0 1292,1031.3 1293,1030.9 1294,1030.6 1295,1030.5 1296,1030.3 1297,1029.9 1298,1030.2 1299,1030.5 1300,1030.7 1301,1030.4 1302,1030.7 1303,1031.0 1304,1030.6 1305,1030.6 1306,1030.2 1307,1030.2 1308,1030.4 1309,1030.3 1310,1029.8 1311,1029.7 1312,1030.3 1313,1030.3 1314,1030.4 1315,1030.7 1316,1030.6 1317,1030.4 1318,1030.3 1319,1030.2 1320,1030.6 1321,1030.7 1322,1031.1 1323,1031.7 1324,1031.5 1325,1031.0 1326,1030.7 1327,1031.4 1328,1031.6 1329,1031.1 1330,1031.2 1331,1031.0 1332,1031.1 1333,1030.9 1334,1030.6 1335,1030.7 1336,1030.9 1337,1031.7 1338,1031.8 1339,1031.5 1340,1031.5 1341,1031.5 1342,1031.5 1343,1031.4 1344,1031.2 1345,1031.0 1346,1030.6 1347,1030.5 1348,1030.7 1349,1030.9 1350,1031.0 1351,1031.5 1352,1031.2 1353,1031.1 1354,1031.6 1355,1032.1 1356,1032.4 1357,1032.1 1358,1031.6 1359,1031.8 1360,1032.2 1361,1032.1 1362,1032.2 1363,1032.1 1364,1032.6 1365,1032.7 1366,1032.5 1367,1032.0 1368,1031.4 1369,1031.5 1370,1032.1 1371,1032.0 1372,1031.2 1373,1031.8 1374,1032.6 1375,1032.6 1376,1032.2 1377,1032.4 1378,1032.3 1379,1032.3 1380,1032.8 1381,1032.8 1382,1032.2 1383,1031.8 1384,1031.7 1385,1031.9 1386,1032.9 1387,1033.2 1388,1032.9 1389,1032.8 1390,1032.4 1391,1032.5 1392,1032.9 1393,1032.8 1394,1032.5 1395,1032.0 1396,1032.0 1397,1032.4 1398,1032.5 1399,1032.7 1400,1032.6 1401,1032.7 1402,1033.0 1403,1033.1 1404,1033.0 1405,1032.8 1406,1033.0 1407,1033.3 1408,1033.0 1409,1032.6 1410,1032.6 1411,1032.9 1412,1033.0 1413,1032.8 1414,1032.2 1415,1032.0 1416,1031.3 1417,1030.8 1418,1030.8 1419,1031.3 1420,1031.8 1421,1031.9 1422,1032.0 1423,1032.2 1424,1032.9 1425,1033.2 1426,1033.4 1427,1033.3 1428,1033.3 1429,1033.6 1430,1034.0 1431,1034.2 1432,1034.0 1433,1034.0 1434,1033.9 1435,1033.8 1436,1033.7 1437,1034.3 1438,1034.5 1439,1034.6 1440,1034.1 1441,1034.1 1442,1034.0 1443,1034.2 1444,1034.4 1445,1034.5 1446,1034.5 1447,1034.5 1448,1034.4 1449,1034.6 1450,1034.4 1451,1034.4 1452,1034.5 1453,1034.5 1454,1034.0 1455,1033.9 1456,1034.5 1457,1034.4 1458,1033.8 1459,1033.8 1460,1034.2 1461,1034.7 1462,1034.8 1463,1035.1 1464,1035.4 1465,1035.4 1466,1034.5 1467,1034.6 1468,1034.9 1469,1034.3 1470,1034.2 1471,1034.8 1472,1035.2 1473,1035.1 1474,1034.2 1475,1034.2 1476,1034.6 1477,1034.6 1478,1034.9 1479,1035.1 1480,1035.4 1481,1035.0 1482,1034.9 1483,1035.0 1484,1035.1 1485,1034.7 1486,1034.8 1487,1034.5 1488,1034.5 1489,1035.2 1490,1035.4 1491,1035.5 1492,1035.2 1493,1035.2 1494,1035.1 1495,1035.1 1496,1035.1 1497,1035.4 1498,1035.1 1499,1035.4 1500,1035.2 1501,1035.3 1502,1035.2 1503,1035.4 1504,1035.6 1505,1035.2 1506,1034.9 1507,1035.2 1508,1035.2 1509,1034.6 1510,1035.4 1511,1035.5 1512,1034.8 1513,1035.1 1514,1035.4 1515,1035.0 1516,1035.1 1517,1035.3 1518,1035.6 1519,1035.8 1520,1035.5 1521,1035.6 1522,1035.8 1523,1035.7 1524,1035.7 1525,1035.8 1526,1035.3 1527,1035.4 1528,1035.4 1529,1035.4 1530,1035.6 1531,1035.9 1532,1036.5 1533,1036.2 1534,1036.1 1535,1036.4 1536,1036.0 1537,1035.3 1538,1035.7 1539,1036.0 1540,1035.7 1541,1035.8 1542,1035.8 1543,1035.8 1544,1035.2 1545,1035.1 1546,1035.6 1547,1036.1 1548,1036.4 1549,1036.0 1550,1035.9 1551,1036.3 1552,1036.4 1553,1036.6 1554,1036.1 1555,1035.4 1556,1035.6 1557,1035.6 1558,1035.6 1559,1035.7 1560,1035.9 1561,1036.0 1562,1036.1 1563,1036.4 1564,1036.5 1565,1036.4 1566,1036.2 1567,1035.6 1568,1035.6 1569,1036.0 1570,1036.2 1571,1036.0 1572,1036.2 1573,1036.7 1574,1037.2 1575,1036.7 1576,1036.5 1577,1036.9 1578,1036.7 1579,1036.6 1580,1036.8 1581,1036.5 1582,1036.6 1583,1036.8 1584,1036.9 1585,1036.3 1586,1036.2 1587,1036.5 1588,1036.6 1589,1036.7 1590,1036.7 1591,1037.0 1592,1037.1 1593,1036.9 1594,1036.7 1595,1037.0 1596,1036.5 1597,1036.8 1598,1037.2 1599,1037.0 1600,1037.5 1601,1037.9 1602,1037.8 1603,1037.4 1604,1037.4 1605,1037.1 1606,1037.2 1607,1037.3 1608,1037.2 1609,1037.2 1610,1036.9 1611,1036.6 1612,1037.1 1613,1037.5 1614,1038.0 1615,1037.7 1616,1037.4 1617,1037.6 1618,1037.5 1619,1037.3 1620,1037.0 1621,1036.8 1622,1037.4 1623,1037.7 1624,1036.8 1625,1037.0 1626,1037.5 1627,1037.6 1628,1037.4 1629,1036.8 1630,1037.1 1631,1037.6 1632,1037.7 1633,1037.6 1634,1037.3 1635,1037.5 1636,1037.1 1637,1037.0 1638,1037.3 1639,1037.9 1640,1037.6 1641,1037.4 1642,1037.1 1643,1037.8 1644,1037.7 1645,1037.0 1646,1037.2 1647,1038.0 1648,1037.8 1649,1038.2 1650,1037.5 1651,1037.1 1652,1037.9 1653,1038.1 1654,1038.0 1655,1037.7 1656,1037.8 1657,1038.0 1658,1037.5 1659,1037.3 1660,1037.9 1661,1037.9 1662,1038.2 1663,1037.9 1664,1037.7 1665,1037.6 1666,1037.3 1667,1038.1 1668,1037.9 1669,1038.1 1670,1038.5 1671,1038.3 1672,1038.4 1673,1038.4 1674,1038.4 1675,1038.4 1676,1038.5 1677,1038.2 1678,1038.2 1679,1038.1 1680,1038.3 1681,1037.7 1682,1038.1 1683,1038.4 1684,1038.4 1685,1038.4 1686,1038.9 1687,1039.0 1688,1038.2 1689,1037.6 1690,1037.7 1691,1038.0 1692,1038.2 1693,1038.5 1694,1038.7 1695,1038.4 1696,1038.4 1697,1038.4 1698,1038.2 1699,1038.6 1700,1039.3 1701,1038.7 1702,1038.0 1703,1037.9 1704,1038.6 1705,1038.5 1706,1038.6 1707,1039.4 1708,1039.1 1709,1038.2 1710,1038.5 1711,1039.0 1712,1038.9 1713,1038.6 1714,1039.3 1715,1039.4 1716,1038.4 1717,1038.0 1718,1038.3 1719,1039.0 1720,1039.2 1721,1038.9 1722,1038.7 1723,1038.8 1724,1038.9 1725,1038.4 1726,1038.3 1727,1038.9 1728,1039.3 1729,1039.2 1730,1039.0 1731,1038.9 1732,1039.1 1733,1038.6 1734,1038.8 1735,1038.9 1736,1038.9 1737,1038.9 1738,1039.2 1739,1039.1 1740,1039.0 1741,1039.3 1742,1039.2 1743,1039.0 1744,1039.1 1745,1039.3 1746,1039.0 1747,1039.1 1748,1039.2 1749,1039.3 1750,1039.5 1751,1039.8 1752,1039.1 1753,1039.4 1754,1039.5 1755,1039.6 1756,1039.2 1757,1039.5 1758,1039.2 1759,1039.6 1760,1039.7 1761,1039.5 1762,1039.2 1763,1039.2 1764,1039.4 1765,1039.1 1766,1038.7 1767,1038.9 1768,1039.8 1769,1040.0 1770,1039.9 1771,1039.8 1772,1039.9 1773,1039.9 1774,1039.8 1775,1039.4 1776,1039.3 1777,1039.4 1778,1039.6 1779,1039.5 1780,1039.8 1781,1040.2 1782,1040.0 1783,1040.3 1784,1040.3 1785,1039.4 1786,1039.4 1787,1039.9 1788,1039.8 1789,1040.1 1790,1040.3"/>
<polyline fill="none" stroke="#000000" stroke-width="3.2" stroke-linejoin="round" points="190,1135.5 191,1135.2 192,1134.7 193,1134.8 194,1135.1 195,1135.1 196,1135.0 197,1134.9 198,1134.7 199,1134.5 200,1134.3 201,1134.0 202,1134.0 203,1134.0 204,1134.0 205,1134.1 206,1134.6 207,1134.8 208,1134.7 209,1134.0 210,1131.6 211,1127.0 212,1121.6 213,1119.0 214,1121.9 215,1128.0 216,1133.4 217,1136.4 218,1137.7 219,1138.3 220,1138.3 221,1138.4 222,1138.3 223,1138.0 224,1136.9 225,1133.9 226,1129.1 227,1124.7 227.6,1123.9 228,1124.3 229,1128.3 230,1133.5 231,1136.8 232,1138.2 233,1138.9 234,1139.1 235,1139.1 236,1139.0 237,1139.0 238,1139.0 239,1139.3 240,1138.7 241,1136.0 242,1129.6 243,1119.5 244,1111.1 244.5,1110.1 245,1111.7 246,1120.4 247,1130.7 248,1137.4 249,1140.3 250,1141.4 251,1141.6 252,1141.4 253,1141.4 254,1141.3 255,1141.5 256,1141.6 257,1141.4 258,1141.4 259,1141.5 260,1141.6 261,1141.5 262,1141.5 263,1141.6 264,1141.5 265,1141.5 266,1141.7 267,1141.7 268,1141.5 269,1141.6 270,1141.7 271,1141.5 272,1141.4 273,1141.6 274,1141.7 275,1141.7 276,1141.6 277,1141.6 278,1141.8 279,1141.7 280,1141.6 281,1141.6 282,1141.2 283,1140.5 284,1139.0 285,1135.7 286,1130.9 287,1127.4 287.3,1127.2 288,1128.4 289,1133.0 290,1137.5 291,1139.8 292,1140.7 293,1141.1 294,1141.1 295,1141.0 296,1141.2 297,1141.2 298,1141.2 299,1141.7 300,1142.0 301,1141.9 302,1141.6 303,1141.2 304,1140.1 305,1136.7 306,1129.1 307,1118.4 308,1110.8 308.3,1110.4 309,1113.2 310,1123.1 311,1132.7 312,1138.5 313,1141.1 314,1141.9 315,1142.2 316,1142.3 317,1142.4 318,1142.6 319,1142.6 320,1142.5 321,1142.5 322,1142.8 323,1142.8 324,1142.8 325,1142.9 326,1142.9 327,1142.8 328,1142.8 329,1142.8 330,1142.7 331,1142.7 332,1142.8 333,1142.8 334,1142.9 335,1143.1 336,1143.0 337,1143.0 338,1143.3 339,1143.2 340,1143.2 341,1143.2 342,1143.0 343,1142.8 344,1142.8 345,1143.1 346,1143.1 347,1142.9 348,1143.1 349,1143.3 350,1143.4 351,1143.4 352,1143.2 353,1143.2 354,1143.5 355,1143.8 356,1144.0 357,1143.7 358,1143.6 359,1143.6 360,1143.6 361,1143.6 362,1143.6 363,1143.5 364,1143.4 365,1143.6 366,1143.7 367,1143.7 368,1143.8 369,1143.7 370,1143.6 371,1143.5 372,1143.3 373,1143.4 374,1143.2 375,1142.3 376,1140.9 377,1137.7 378,1129.8 379,1113.5 380,1087.5 381,1055.8 382,1029.4 382.8,1021.4 383,1021.9 384,1037.8 385,1067.6 386,1097.7 387,1119.6 388,1131.9 389,1137.2 390,1139.1 391,1139.9 392,1140.5 393,1140.9 394,1140.9 395,1140.9 396,1140.8 397,1140.6 398,1140.4 399,1140.1 400,1138.9 401,1136.3 402,1133.3 403,1132.2 404,1133.6 405,1136.6 406,1139.4 407,1140.8 408,1141.2 409,1141.4 410,1141.3 411,1141.1 412,1141.2 413,1141.0 414,1139.1 415,1134.2 416,1126.4 417,1119.9 417.5,1119.1 418,1120.2 419,1126.6 420,1134.4 421,1139.6 422,1141.7 423,1142.2 424,1142.4 425,1142.7 426,1143.1 427,1143.1 428,1142.9 429,1143.0 430,1143.4 431,1143.6 432,1143.5 433,1143.3 434,1142.9 435,1142.9 436,1143.2 437,1143.2 438,1143.2 439,1143.1 440,1143.1 441,1143.2 442,1143.2 443,1143.2 444,1143.3 445,1143.3 446,1143.5 447,1143.4 448,1143.1 449,1143.0 450,1143.0 451,1142.9 452,1142.5 453,1142.0 454,1141.4 455,1140.7 455.4,1140.5 456,1140.5 457,1141.1 458,1142.1 459,1142.6 460,1142.7 461,1142.8 462,1142.9 463,1143.1 464,1143.2 465,1143.2 466,1143.0 467,1143.0 468,1143.1 469,1143.1 470,1143.0 471,1142.7 472,1142.3 473,1142.1 474,1142.0 475,1141.7 476,1140.0 477,1134.8 478,1122.5 479,1101.1 480,1076.3 481,1061.5 481.2,1060.7 482,1068.0 483,1090.7 484,1114.5 485,1130.5 486,1138.1 487,1140.4 488,1140.7 489,1140.0 490,1137.0 491,1128.2 492,1108.9 493,1079.3 494,1049.6 494.9,1038.3 495,1038.5 496,1054.8 497,1085.9 498,1114.3 499,1131.3 500,1138.3 501,1140.4 502,1141.2 503,1141.6 504,1141.8 505,1141.7 506,1141.6 507,1141.7 508,1141.9 509,1142.2 510,1142.0 511,1141.9 512,1142.2 513,1142.6 514,1142.4 515,1142.0 516,1142.2 517,1142.5 518,1142.5 519,1142.2 520,1142.0 521,1142.1 522,1142.3 523,1142.5 524,1142.5 525,1142.4 526,1142.4 527,1142.2 528,1142.2 529,1142.3 530,1142.4 531,1142.4 532,1142.5 533,1142.4 534,1142.2 535,1142.1 536,1142.0 537,1141.5 538,1140.6 539,1138.1 540,1133.3 541,1128.4 541.7,1127.2 542,1127.5 543,1130.7 544,1135.5 545,1138.4 546,1137.5 547,1132.0 548,1121.4 549,1109.9 549.8,1105.8 550,1106.1 551,1113.8 552,1125.6 553,1134.0 554,1137.9 555,1139.3 556,1139.6 557,1139.6 558,1139.8 559,1140.0 560,1140.1 561,1140.2 562,1140.0 563,1139.3 564,1136.7 565,1129.3 566,1116.8 567,1106.0 567.5,1104.6 568,1106.4 569,1116.9 570,1129.4 571,1137.6 572,1141.0 573,1142.3 574,1143.0 575,1143.0 576,1143.1 577,1143.3 578,1143.0 579,1142.9 580,1143.3 581,1143.6 582,1143.4 583,1143.2 584,1143.0 585,1143.1 586,1143.5 587,1143.6 588,1143.4 589,1143.1 590,1142.9 591,1142.9 592,1143.0 593,1143.2 594,1143.2 595,1143.2 596,1143.4 597,1143.4 598,1143.4 599,1143.3 600,1143.1 601,1143.0 602,1143.1 603,1143.2 604,1143.2 605,1143.2 606,1143.3 607,1143.4 608,1143.3 609,1143.3 610,1143.2 611,1143.0 612,1142.4 613,1141.2 614,1139.4 615,1138.3 615.1,1138.2 616,1138.9 617,1140.5 618,1141.8 619,1142.5 620,1142.9 621,1143.0 622,1143.1 623,1143.4 624,1143.5 625,1143.4 626,1143.2 627,1143.1 628,1143.3 629,1143.7 630,1143.7 631,1143.4 632,1143.5 633,1143.6 634,1143.3 635,1143.3 636,1143.5 637,1143.4 638,1143.2 639,1143.2 640,1142.4 641,1139.6 642,1133.8 643,1126.5 644,1122.0 644.2,1121.8 645,1124.1 646,1131.2 647,1137.9 648,1141.5 649,1142.9 650,1143.2 651,1143.3 652,1143.4 653,1143.3 654,1143.2 655,1143.3 656,1143.1 657,1143.1 658,1143.3 659,1143.4 660,1143.5 661,1143.8 662,1143.9 663,1143.9 664,1143.9 665,1143.8 666,1143.4 667,1143.1 668,1143.2 669,1143.6 670,1143.7 671,1143.6 672,1143.7 673,1143.8 674,1143.5 675,1143.3 676,1143.4 677,1143.6 678,1143.8 679,1143.8 680,1143.6 681,1143.6 682,1143.7 683,1143.8 684,1144.0 685,1144.0 686,1143.7 687,1143.6 688,1143.6 689,1143.6 690,1143.7 691,1143.7 692,1143.6 693,1143.5 694,1143.6 695,1143.9 696,1144.3 697,1144.2 698,1144.0 699,1143.9 700,1144.0 701,1144.1 702,1143.9 703,1143.6 704,1143.6 705,1143.7 706,1143.7 707,1143.6 708,1143.6 709,1143.6 710,1143.7 711,1143.8 712,1143.9 713,1143.5 714,1143.4 715,1143.3 716,1141.8 717,1137.6 718,1130.6 719,1123.5 719.7,1121.7 720,1122.1 721,1127.6 722,1135.3 723,1140.8 724,1143.4 725,1144.2 726,1144.5 727,1144.7 728,1144.6 729,1144.1 730,1142.7 731,1139.7 732,1135.6 733,1132.6 733.3,1132.5 734,1133.6 735,1137.4 736,1141.2 737,1143.6 738,1144.4 739,1144.9 740,1145.2 741,1145.2 742,1145.2 743,1145.3 744,1145.3 745,1145.3 746,1144.9 747,1144.6 748,1144.8 749,1145.1 750,1145.1 751,1145.0 752,1145.1 753,1145.0 754,1145.0 755,1145.1 756,1145.0 757,1144.9 758,1144.7 759,1144.1 760,1143.0 761,1140.6 762,1136.8 763,1132.5 764,1129.6 764.3,1129.2 765,1130.0 766,1134.0 767,1138.7 768,1142.0 769,1143.9 770,1144.6 771,1144.7 772,1144.8 773,1144.8 774,1144.8 775,1144.8 776,1144.9 777,1145.0 778,1145.0 779,1145.0 780,1145.1 781,1144.9 782,1144.9 783,1145.0 784,1145.1 785,1145.2 786,1145.1 787,1145.0 788,1145.0 789,1145.0 790,1145.0 791,1145.0 792,1144.9 793,1144.7 794,1144.7 795,1144.9 796,1145.1 797,1145.0 798,1144.7 799,1144.9 800,1145.1 801,1145.0 802,1144.8 803,1144.4 804,1143.6 805,1142.4 806,1141.1 806.9,1140.6 807,1140.9 808,1141.6 809,1142.8 810,1143.9 811,1144.6 812,1144.9 813,1145.1 814,1145.1 815,1145.0 816,1145.1 817,1145.2 818,1145.2 819,1145.3 820,1145.3 821,1145.5 822,1145.4 823,1144.9 824,1144.6 825,1144.5 826,1144.2 827,1144.1 827.2,1144.2 828,1144.1 829,1144.5 830,1144.8 831,1145.1 832,1145.4 833,1145.6 834,1145.7 835,1145.7 836,1145.7 837,1145.5 838,1145.3 839,1145.3 840,1145.5 841,1145.6 842,1145.5 843,1145.5 844,1145.4 845,1145.2 846,1145.4 847,1145.4 848,1145.0 849,1143.9 850,1141.4 851,1137.1 852,1132.4 853,1129.6 853.3,1129.5 854,1130.3 855,1134.1 856,1138.9 857,1142.6 858,1144.7 859,1145.5 860,1145.6 861,1145.6 862,1145.5 863,1145.5 864,1145.7 865,1146.0 866,1145.9 867,1145.6 868,1145.3 869,1144.8 870,1144.0 871,1143.0 872,1141.7 873,1140.2 874,1138.9 875,1138.0 875.6,1137.9 876,1138.0 877,1138.8 878,1140.1 879,1141.6 880,1142.9 881,1143.7 882,1144.6 883,1145.4 884,1145.9 885,1146.1 886,1146.1 887,1146.0 888,1146.1 889,1146.1 890,1146.1 891,1146.2 892,1146.2 893,1146.1 894,1145.9 895,1145.7 896,1145.5 897,1145.1 898,1144.3 899,1143.0 900,1141.7 901,1140.4 902,1138.8 903,1137.1 904,1136.0 905,1135.3 905.6,1135.0 906,1135.1 907,1135.8 908,1137.0 909,1138.5 910,1140.1 911,1141.7 912,1142.9 913,1143.9 914,1144.8 915,1145.5 916,1145.8 917,1146.0 918,1146.4 919,1146.7 920,1146.7 921,1146.5 922,1146.2 923,1145.5 924,1144.6 925,1143.5 926,1142.9 927,1143.5 928,1144.7 929,1145.7 930,1146.6 931,1147.2 932,1147.4 933,1147.3 934,1147.2 935,1147.1 936,1147.0 937,1147.1 938,1147.3 939,1147.2 940,1147.1 941,1147.3 942,1147.2 943,1146.5 944,1145.3 945,1143.8 946,1142.0 947,1140.7 947.3,1141.0 948,1141.6 949,1142.8 950,1144.6 951,1146.1 952,1146.9 953,1147.0 954,1147.1 955,1147.4 956,1147.6 957,1147.5 958,1147.3 959,1147.4 960,1147.6 961,1147.5 962,1147.3 963,1147.3 964,1147.1 965,1147.3 966,1147.6 967,1147.7 968,1147.7 969,1147.5 970,1147.3 971,1147.4 972,1147.8 973,1148.0 974,1147.7 975,1147.3 976,1147.4 977,1147.7 978,1147.6 979,1147.3 980,1147.3 981,1147.3 982,1146.6 983,1145.5 984,1144.6 984.9,1144.3 985,1144.1 986,1144.4 987,1145.5 988,1146.7 989,1147.4 990,1147.4 991,1147.2 992,1147.1 993,1147.2 994,1147.5 995,1147.6 996,1147.5 997,1147.4 998,1147.1 999,1147.1 1000,1147.2 1001,1147.1 1002,1146.6 1003,1146.2 1004,1146.0 1005,1145.8 1006,1145.9 1007,1146.3 1008,1147.0 1009,1147.5 1010,1147.6 1011,1147.6 1012,1147.7 1013,1147.8 1014,1147.7 1015,1147.6 1016,1147.7 1017,1147.6 1018,1147.5 1019,1147.6 1020,1147.7 1021,1147.7 1022,1147.6 1023,1147.4 1024,1147.2 1025,1147.5 1026,1147.8 1027,1147.8 1028,1147.6 1029,1147.5 1030,1147.7 1031,1147.8 1032,1147.6 1033,1147.5 1034,1147.7 1035,1147.8 1036,1147.8 1037,1147.9 1038,1147.7 1039,1147.4 1040,1147.4 1041,1147.7 1042,1147.8 1043,1147.7 1044,1147.9 1045,1148.0 1046,1148.0 1047,1147.9 1048,1147.8 1049,1147.7 1050,1147.7 1051,1147.6 1052,1147.8 1053,1147.9 1054,1147.9 1055,1147.7 1056,1147.5 1057,1147.4 1058,1147.3 1059,1147.0 1060,1146.4 1061,1145.3 1062,1144.3 1063,1143.7 1064,1144.0 1065,1145.1 1066,1146.4 1067,1147.2 1068,1147.4 1069,1147.5 1070,1147.8 1071,1147.9 1072,1147.7 1073,1147.2 1074,1146.5 1075,1145.1 1076,1142.9 1077,1140.3 1078,1138.7 1078.3,1138.6 1079,1139.1 1080,1141.3 1081,1143.9 1082,1145.8 1083,1146.6 1084,1147.1 1085,1147.5 1086,1147.7 1087,1147.7 1088,1147.5 1089,1146.8 1090,1145.8 1091,1144.5 1092,1143.6 1092.5,1143.4 1093,1143.6 1094,1144.5 1095,1145.7 1096,1146.8 1097,1147.7 1098,1148.1 1099,1148.2 1100,1148.0 1101,1147.7 1102,1147.7 1103,1147.6 1104,1147.5 1105,1147.6 1106,1147.5 1107,1147.2 1108,1146.7 1109,1146.2 1110,1145.5 1111,1144.9 1111.5,1144.7 1112,1145.0 1113,1145.9 1114,1146.9 1115,1147.5 1116,1147.7 1117,1147.7 1118,1147.7 1119,1147.7 1120,1147.7 1121,1147.9 1122,1148.0 1123,1148.1 1124,1148.0 1125,1147.9 1126,1147.7 1127,1147.7 1128,1147.9 1129,1147.9 1130,1148.0 1131,1147.8 1132,1147.9 1133,1148.0 1134,1147.8 1135,1147.8 1136,1148.0 1137,1148.0 1138,1148.0 1139,1148.1 1140,1147.9 1141,1147.7 1142,1147.9 1143,1147.9 1144,1148.0 1145,1148.0 1146,1147.8 1147,1147.8 1148,1148.0 1149,1148.0 1150,1147.9 1151,1148.1 1152,1148.0 1153,1147.8 1154,1147.9 1155,1148.2 1156,1148.3 1157,1148.3 1158,1148.2 1159,1148.1 1160,1147.9 1161,1147.7 1162,1147.9 1163,1148.2 1164,1148.2 1165,1148.0 1166,1147.9 1167,1148.0 1168,1148.2 1169,1148.2 1170,1148.2 1171,1148.2 1172,1148.4 1173,1148.6 1174,1148.5 1175,1148.1 1176,1147.9 1177,1148.1 1178,1148.2 1179,1148.2 1180,1148.0 1181,1147.7 1182,1147.7 1183,1147.9 1184,1148.0 1185,1147.9 1186,1148.0 1187,1148.1 1188,1148.0 1189,1148.1 1190,1148.2 1191,1148.0 1192,1147.9 1193,1147.9 1194,1147.9 1195,1147.9 1196,1148.0 1197,1148.3 1198,1148.6 1199,1148.4 1200,1148.0 1201,1147.9 1202,1147.7 1203,1147.2 1204,1146.3 1205,1145.5 1206,1144.9 1207,1144.2 1208,1143.8 1208.5,1143.8 1209,1143.9 1210,1144.2 1211,1144.8 1212,1145.5 1213,1146.4 1214,1147.1 1215,1147.3 1216,1147.5 1217,1147.6 1218,1147.6 1219,1147.4 1220,1147.3 1221,1147.3 1222,1146.9 1222.7,1146.5 1223,1146.3 1224,1146.9 1225,1147.5 1226,1147.7 1227,1147.7 1228,1148.0 1229,1148.2 1230,1148.2 1231,1148.1 1232,1148.1 1233,1148.3 1234,1148.3 1235,1147.9 1236,1147.7 1237,1147.7 1238,1148.0 1239,1148.1 1240,1148.1 1241,1148.1 1242,1148.1 1243,1148.1 1244,1148.2 1245,1148.3 1246,1148.3 1247,1148.1 1248,1148.1 1249,1148.3 1250,1148.6 1251,1148.5 1252,1148.3 1253,1148.2 1254,1147.9 1255,1147.9 1256,1148.1 1257,1148.1 1258,1148.1 1259,1148.2 1260,1148.3 1261,1148.0 1262,1147.7 1263,1147.9 1264,1148.1 1265,1148.0 1266,1147.9 1267,1147.8 1268,1147.7 1269,1147.4 1270,1147.0 1271,1146.7 1272,1146.1 1273,1145.4 1274,1145.0 1274.8,1144.9 1275,1144.9 1276,1145.4 1277,1145.9 1278,1146.3 1279,1147.0 1280,1147.4 1281,1147.4 1282,1147.5 1283,1147.8 1284,1148.1 1285,1148.2 1286,1148.3 1287,1148.3 1288,1148.2 1289,1148.1 1290,1148.0 1291,1148.2 1292,1148.3 1293,1148.3 1294,1148.2 1295,1148.0 1296,1148.0 1297,1147.9 1298,1147.7 1299,1147.7 1300,1147.5 1301,1147.2 1302,1147.0 1303,1146.9 1304,1146.5 1305,1145.7 1306,1145.2 1307,1144.9 1308,1144.4 1309,1143.6 1310,1142.7 1311,1142.2 1312,1141.8 1313,1141.3 1314,1140.9 1315,1141.1 1316,1141.6 1317,1141.7 1318,1141.9 1319,1142.5 1320,1143.0 1321,1143.5 1322,1144.1 1323,1144.7 1324,1145.3 1325,1146.1 1326,1146.5 1327,1146.8 1328,1147.3 1329,1147.4 1330,1147.5 1331,1147.9 1332,1148.2 1333,1148.1 1334,1148.1 1335,1148.4 1336,1148.5 1337,1148.4 1338,1148.4 1339,1148.6 1340,1148.7 1341,1148.5 1342,1148.4 1343,1148.6 1344,1148.4 1345,1148.1 1346,1147.9 1347,1147.5 1348,1147.0 1349,1146.7 1350,1146.3 1351,1145.8 1352,1145.4 1353,1145.1 1354,1145.1 1355,1145.5 1356,1146.0 1357,1146.8 1358,1147.4 1359,1147.8 1360,1147.9 1361,1147.9 1362,1148.2 1363,1148.2 1364,1148.1 1365,1148.2 1366,1148.4 1367,1148.4 1368,1148.7 1369,1148.7 1370,1148.4 1371,1148.5 1372,1148.8 1373,1148.7 1374,1148.4 1375,1148.6 1376,1148.6 1377,1148.3 1378,1148.5 1379,1148.7 1380,1148.5 1381,1148.5 1382,1148.5 1383,1148.4 1384,1148.6 1385,1148.8 1386,1148.5 1387,1148.4 1388,1148.7 1389,1148.7 1390,1148.6 1391,1148.5 1392,1148.6 1393,1148.6 1394,1148.3 1395,1148.1 1396,1148.2 1397,1148.5 1398,1148.6 1399,1148.5 1400,1148.6 1401,1148.8 1402,1148.8 1403,1148.6 1404,1148.5 1405,1148.7 1406,1148.9 1407,1148.7 1408,1148.5 1409,1148.5 1410,1148.4 1411,1148.3 1412,1148.3 1413,1148.0 1414,1147.6 1415,1147.5 1416,1147.6 1417,1147.4 1418,1147.1 1419,1147.1 1420,1147.4 1421,1147.5 1422,1147.7 1423,1148.1 1424,1148.3 1425,1148.6 1426,1148.8 1427,1148.7 1428,1148.6 1429,1148.6 1430,1148.5 1431,1148.5 1432,1148.6 1433,1148.7 1434,1148.7 1435,1148.9 1436,1148.8 1437,1148.6 1438,1148.6 1439,1148.4 1440,1148.1 1441,1147.8 1442,1147.5 1443,1147.2 1444,1147.1 1445,1147.1 1446,1147.1 1447,1147.4 1448,1147.7 1449,1147.9 1450,1148.0 1451,1148.1 1452,1148.4 1453,1148.5 1454,1148.6 1455,1148.8 1456,1148.9 1457,1148.7 1458,1148.6 1459,1148.7 1460,1148.8 1461,1148.6 1462,1148.4 1463,1148.4 1464,1148.3 1465,1148.2 1466,1148.0 1467,1147.8 1468,1147.6 1469,1147.3 1470,1147.1 1471,1147.1 1472,1147.3 1473,1147.6 1474,1147.9 1475,1148.0 1476,1148.1 1477,1148.6 1478,1148.7 1479,1148.5 1480,1148.7 1481,1149.0 1482,1149.0 1483,1148.9 1484,1148.7 1485,1148.7 1486,1148.9 1487,1148.8 1488,1148.5 1489,1148.1 1490,1147.9 1491,1147.6 1492,1147.3 1493,1147.2 1494,1147.5 1495,1147.6 1496,1147.7 1497,1147.9 1498,1148.1 1499,1148.5 1500,1148.7 1501,1148.8 1502,1148.7 1503,1148.5 1504,1148.8 1505,1149.0 1506,1148.9 1507,1148.9 1508,1149.2 1509,1149.1 1510,1148.9 1511,1149.0 1512,1149.1 1513,1149.1 1514,1149.1 1515,1149.0 1516,1148.8 1517,1148.8 1518,1148.8 1519,1148.8 1520,1148.8 1521,1148.9 1522,1148.7 1523,1148.2 1524,1147.7 1525,1147.3 1526,1146.8 1527,1146.4 1528,1146.4 1529,1146.7 1530,1147.1 1531,1147.6 1532,1148.1 1533,1148.4 1534,1148.6 1535,1148.9 1536,1149.0 1537,1148.8 1538,1148.8 1539,1148.8 1540,1149.0 1541,1149.2 1542,1149.2 1543,1149.3 1544,1149.2 1545,1149.3 1546,1149.4 1547,1149.4 1548,1149.3 1549,1149.4 1550,1149.2 1551,1148.8 1552,1148.8 1553,1149.0 1554,1149.1 1555,1148.9 1556,1148.7 1557,1148.8 1558,1149.0 1559,1149.0 1560,1148.8 1561,1149.0 1562,1149.0 1563,1148.6 1564,1148.7 1565,1148.9 1566,1149.1 1567,1149.1 1568,1149.1 1569,1149.1 1570,1149.1 1571,1149.3 1572,1149.1 1573,1149.0 1574,1149.0 1575,1149.0 1576,1148.9 1577,1148.8 1578,1148.7 1579,1148.6 1580,1148.5 1581,1148.5 1582,1148.7 1583,1148.6 1584,1148.3 1585,1147.9 1586,1147.7 1587,1147.7 1588,1147.4 1589,1147.3 1590,1147.3 1591,1147.2 1592,1147.3 1593,1147.5 1594,1147.7 1595,1148.1 1596,1148.4 1597,1148.6 1598,1148.9 1599,1149.3 1600,1149.3 1601,1149.1 1602,1149.2 1603,1149.1 1604,1149.0 1605,1149.3 1606,1149.3 1607,1149.1 1608,1148.9 1609,1148.8 1610,1149.2 1611,1149.4 1612,1149.4 1613,1149.4 1614,1149.3 1615,1149.0 1616,1149.0 1617,1148.8 1618,1148.8 1619,1149.2 1620,1149.3 1621,1149.2 1622,1149.0 1623,1149.0 1624,1149.2 1625,1149.2 1626,1149.4 1627,1149.6 1628,1149.3 1629,1149.1 1630,1149.1 1631,1148.8 1632,1148.5 1633,1148.4 1634,1148.0 1635,1147.6 1636,1147.6 1637,1147.7 1638,1147.9 1639,1148.0 1640,1148.0 1641,1148.3 1642,1148.4 1643,1148.3 1644,1148.5 1645,1149.1 1646,1149.3 1647,1149.1 1648,1149.2 1649,1149.4 1650,1149.1 1651,1148.8 1652,1149.1 1653,1149.3 1654,1149.3 1655,1149.4 1656,1149.4 1657,1149.4 1658,1149.6 1659,1149.4 1660,1149.2 1661,1149.1 1662,1149.0 1663,1149.1 1664,1149.1 1665,1149.2 1666,1149.4 1667,1149.3 1668,1149.1 1669,1149.2 1670,1149.5 1671,1149.6 1672,1149.4 1673,1149.2 1674,1149.2 1675,1149.0 1676,1149.0 1677,1149.0 1678,1148.8 1679,1148.5 1680,1148.1 1681,1148.0 1682,1148.2 1683,1148.3 1684,1147.9 1685,1147.6 1686,1147.7 1687,1148.1 1688,1148.5 1689,1148.5 1690,1148.5 1691,1148.6 1692,1148.9 1693,1149.2 1694,1149.4 1695,1149.5 1696,1149.4 1697,1149.3 1698,1149.4 1699,1149.6 1700,1149.4 1701,1149.2 1702,1149.2 1703,1149.3 1704,1149.2 1705,1149.2 1706,1149.4 1707,1149.4 1708,1149.3 1709,1149.4 1710,1149.4 1711,1149.2 1712,1149.0 1713,1149.2 1714,1149.4 1715,1149.3 1716,1149.6 1717,1149.9 1718,1149.9 1719,1149.8 1720,1149.7 1721,1149.5 1722,1149.4 1723,1149.6 1724,1149.7 1725,1149.8 1726,1149.8 1727,1149.7 1728,1149.6 1729,1149.5 1730,1149.4 1731,1149.5 1732,1149.6 1733,1149.6 1734,1149.5 1735,1149.4 1736,1149.6 1737,1149.7 1738,1149.6 1739,1149.4 1740,1149.2 1741,1149.2 1742,1149.4 1743,1149.3 1744,1149.2 1745,1149.3 1746,1149.6 1747,1149.7 1748,1149.6 1749,1149.5 1750,1149.7 1751,1149.9 1752,1149.7 1753,1149.5 1754,1149.3 1755,1149.5 1756,1149.7 1757,1149.3 1758,1149.2 1759,1149.4 1760,1149.5 1761,1149.5 1762,1149.6 1763,1149.7 1764,1149.5 1765,1149.4 1766,1149.5 1767,1149.9 1768,1149.9 1769,1149.6 1770,1149.5 1771,1149.6 1772,1149.6 1773,1149.6 1774,1149.8 1775,1149.6 1776,1149.1 1777,1149.2 1778,1149.7 1779,1150.1 1780,1150.0 1781,1149.7 1782,1149.4 1783,1149.5 1784,1149.6 1785,1149.6 1786,1149.6 1787,1149.7 1788,1149.5 1789,1149.4 1790,1149.5"/>
<path d="M402.6,108.6L429.7,108.6L416.0,140.4ZM408.1,111.0L426.2,111.0L417.0,132.2Z" fill="#111" fill-rule="evenodd"/>
<path d="M793.6,98.0L821.6,98.0L807.4,124.0ZM799.3,100.0L818.0,100.0L808.5,117.3Z" fill="#111" fill-rule="evenodd"/>
<rect x="654.2" y="264.5" width="28.2" height="28.0" fill="none" stroke="#555" stroke-width="3.0"/>
<path d="M753.0,224.0L784.6,224.0L768.8,252.0Z" fill="#000"/>
<rect x="903.6" y="199.9" width="29.7" height="29.6" fill="none" stroke="#555" stroke-width="3.0"/>
<path d="M902.1,237.3L934.8,237.3L918.5,266.8Z" fill="#000"/>
<path d="M973.0,228.5L1000.0,228.5L986.4,258.6ZM978.5,230.8L996.5,230.8L987.3,250.8Z" fill="#111" fill-rule="evenodd"/>
<rect x="1204.5" y="282.5" width="28.5" height="28.0" fill="none" stroke="#555" stroke-width="3.0"/>
<path d="M1234.0,261.0L1262.5,261.0L1248.1,291.5ZM1239.8,263.3L1258.8,263.3L1249.1,283.6Z" fill="#111" fill-rule="evenodd"/>
<rect x="1323.2" y="269.5" width="28.3" height="28.4" fill="none" stroke="#555" stroke-width="3.0"/>
<path d="M1374.4,261.0L1403.7,261.0L1388.9,292.0ZM1380.3,263.3L1399.9,263.3L1390.0,284.0Z" fill="#111" fill-rule="evenodd"/>
<path d="M1409.0,272.0L1441.5,272.0L1425.2,300.0Z" fill="#000"/>
<path d="M1598.0,254.0L1627.4,254.0L1612.5,285.6ZM1604.0,256.4L1623.6,256.4L1613.6,277.5Z" fill="#111" fill-rule="evenodd"/>
<path d="M1729.0,265.0L1762.0,265.0L1745.5,293.5Z" fill="#000"/>
<path d="M402.5,419.0L432.6,419.0L417.4,450.7ZM408.6,421.4L428.7,421.4L418.5,442.5Z" fill="#111" fill-rule="evenodd"/>
<rect x="658.3" y="430.2" width="28.7" height="28.7" fill="none" stroke="#555" stroke-width="3.0"/>
<path d="M749.7,322.0L781.5,322.0L765.6,347.0Z" fill="#000"/>
<rect x="906.5" y="356.5" width="29.0" height="28.0" fill="none" stroke="#555" stroke-width="3.0"/>
<path d="M905.0,393.0L937.0,393.0L921.0,420.0Z" fill="#000"/>
<path d="M1407.0,428.0L1440.0,428.0L1423.5,456.5Z" fill="#000"/>
<path d="M1729.0,439.0L1762.0,439.0L1745.5,466.6Z" fill="#000"/>
<path d="M267.8,600.7L277.6,614.0L267.8,627.3L258.0,614.0Z" fill="#000"/>
<path d="M413.5,608.0L424.0,620.7L413.5,633.4L403.0,620.7Z" fill="#000"/>
<path d="M490.5,606.8L501.0,619.5L490.5,632.3L480.0,619.5Z" fill="#000"/>
<path d="M754.0,494.8L784.0,494.8L769.0,521.0Z" fill="#000"/>
<path d="M907.0,538.4L939.0,538.4L923.0,566.6Z" fill="#000"/>
<path d="M1409.4,581.0L1442.8,581.0L1426.1,608.0Z" fill="#000"/>
<path d="M1733.0,583.7L1766.0,583.7L1749.5,613.0Z" fill="#000"/>
<path d="M214.2,770.0L224.7,782.9L214.2,795.7L203.7,782.9Z" fill="#000"/>
<path d="M245.8,756.0L255.7,768.8L245.8,781.5L236.0,768.8Z" fill="#000"/>
<path d="M266.2,769.7L276.7,782.2L266.2,794.6L255.7,782.2Z" fill="#000"/>
<path d="M408.2,778.3L418.4,790.4L408.2,802.5L398.0,790.4Z" fill="#000"/>
<path d="M486.4,780.5L496.8,793.2L486.4,806.0L476.0,793.2Z" fill="#000"/>
<path d="M749.7,660.6L781.5,660.6L765.6,685.5Z" fill="#000"/>
<path d="M905.4,726.0L937.0,726.0L921.2,752.6Z" fill="#000"/>
<path d="M1408.0,764.4L1442.0,764.4L1425.0,793.0Z" fill="#000"/>
<path d="M1730.0,771.6L1762.0,771.6L1746.0,800.0Z" fill="#000"/>
<path d="M212.3,906.3L222.8,918.8L212.3,931.3L201.8,918.8Z" fill="#000"/>
<path d="M243.8,881.3L254.2,893.8L243.8,906.3L233.3,893.8Z" fill="#000"/>
<path d="M226.3,936.9L234.8,953.0L226.3,969.1L217.9,953.0Z" fill="none" stroke="#333" stroke-width="1.8"/>
<path d="M262.7,950.7L272.8,963.2L262.7,975.7L252.6,963.2Z" fill="#000"/>
<path d="M285.2,909.5L295.4,922.0L285.2,934.5L275.0,922.0Z" fill="#000"/>
<path d="M306.3,933.9L314.7,949.1L306.3,964.3L297.9,949.1Z" fill="none" stroke="#333" stroke-width="1.8"/>
<path transform="translate(320.4,939.4) scale(1.027,0.962)" d="M11,5 C9,-0.5 0,-0.5 0,7 C0,13 7,18 11,26 C15,18 22,13 22,7 C22,-0.5 13,-0.5 11,5 Z" fill="#000"/>
<path transform="translate(353.1,931.0) scale(1.000,1.000)" d="M11,5 C9,-0.5 0,-0.5 0,7 C0,13 7,18 11,26 C15,18 22,13 22,7 C22,-0.5 13,-0.5 11,5 Z" fill="#000"/>
<path d="M380.9,898.3L389.7,913.5L380.9,928.8L372.1,913.5Z" fill="none" stroke="#333" stroke-width="1.8"/>
<path d="M401.1,920.0L410.8,932.1L401.1,944.2L391.4,932.1Z" fill="#000"/>
<path d="M422.0,928.9L430.8,943.8L422.0,958.7L413.3,943.8Z" fill="none" stroke="#333" stroke-width="1.8"/>
<path d="M477.8,931.7L485.7,947.0L477.8,962.2L469.8,947.0Z" fill="none" stroke="#333" stroke-width="1.8"/>
<path d="M492.7,915.6L501.9,930.5L492.7,945.3L483.5,930.5Z" fill="none" stroke="#333" stroke-width="1.8"/>
<path d="M556.8,936.6L565.6,951.9L556.8,967.1L547.9,951.9Z" fill="none" stroke="#333" stroke-width="1.8"/>
<path d="M566.5,915.6L575.3,930.5L566.5,945.3L557.7,930.5Z" fill="none" stroke="#333" stroke-width="1.8"/>
<path d="M614.1,933.3L624.6,946.1L614.1,959.0L603.6,946.1Z" fill="#000"/>
<path d="M716.1,961.6L725.4,976.0L716.1,990.4L706.9,976.0Z" fill="none" stroke="#333" stroke-width="1.8"/>
<path d="M750.5,917.0L782.8,917.0L766.6,946.8Z" fill="#000"/>
<path transform="translate(765.0,963.7) scale(1.100,0.935)" d="M11,5 C9,-0.5 0,-0.5 0,7 C0,13 7,18 11,26 C15,18 22,13 22,7 C22,-0.5 13,-0.5 11,5 Z" fill="#000"/>
<path d="M853.0,963.9L862.5,979.5L853.0,995.1L843.4,979.5Z" fill="none" stroke="#333" stroke-width="1.8"/>
<path d="M905.4,966.0L939.3,966.0L922.3,995.2Z" fill="#000"/>
<path transform="translate(932.0,980.0) scale(1.100,0.988)" d="M11,5 C9,-0.5 0,-0.5 0,7 C0,13 7,18 11,26 C15,18 22,13 22,7 C22,-0.5 13,-0.5 11,5 Z" fill="#000"/>
<path d="M214.1,1084.3L224.7,1097.4L214.1,1110.5L203.5,1097.4Z" fill="#000"/>
<path d="M228.1,1058.4L237.9,1074.0L228.1,1089.7L218.2,1074.0Z" fill="none" stroke="#333" stroke-width="1.8"/>
<path d="M247.0,1075.5L257.5,1087.6L247.0,1099.7L236.5,1087.6Z" fill="#000"/>
<path d="M262.7,1101.3L272.8,1113.8L262.7,1126.3L252.6,1113.8Z" fill="#000"/>
<path d="M288.1,1091.6L298.6,1103.7L288.1,1115.8L277.6,1103.7Z" fill="#000"/>
<path d="M309.9,1073.2L319.5,1088.4L309.9,1103.6L300.3,1088.4Z" fill="none" stroke="#333" stroke-width="1.8"/>
<path d="M383.5,998.2L393.1,1013.6L383.5,1029.1L373.9,1013.6Z" fill="none" stroke="#333" stroke-width="1.8"/>
<path d="M402.5,1096.5L412.6,1109.0L402.5,1121.5L392.4,1109.0Z" fill="#000"/>
<path d="M419.1,1076.4L428.7,1091.7L419.1,1106.9L409.5,1091.7Z" fill="none" stroke="#333" stroke-width="1.8"/>
<path d="M481.6,1024.8L490.8,1040.0L481.6,1055.3L472.4,1040.0Z" fill="none" stroke="#333" stroke-width="1.8"/>
<path d="M494.9,1005.9L504.5,1021.0L494.9,1036.1L485.3,1021.0Z" fill="none" stroke="#333" stroke-width="1.8"/>
<path d="M544.1,1083.9L553.7,1099.5L544.1,1115.0L534.5,1099.5Z" fill="none" stroke="#333" stroke-width="1.8"/>
<path d="M552.6,1060.3L561.8,1075.5L552.6,1090.6L543.4,1075.5Z" fill="none" stroke="#333" stroke-width="1.8"/>
<path d="M570.0,1062.7L578.7,1077.5L570.0,1092.4L561.2,1077.5Z" fill="none" stroke="#333" stroke-width="1.8"/>
<path d="M618.0,1100.5L628.9,1113.4L618.0,1126.3L607.0,1113.4Z" fill="#000"/>
<path d="M644.2,1084.1L653.0,1099.2L644.2,1114.3L635.4,1099.2Z" fill="none" stroke="#333" stroke-width="1.8"/>
<path d="M721.6,1071.6L730.4,1086.2L721.6,1100.7L712.9,1086.2Z" fill="none" stroke="#333" stroke-width="1.8"/>
<path d="M735.2,1093.9L744.1,1109.4L735.2,1124.9L726.4,1109.4Z" fill="none" stroke="#333" stroke-width="1.8"/>
<path d="M765.2,1092.9L774.1,1108.0L765.2,1123.1L756.4,1108.0Z" fill="none" stroke="#333" stroke-width="1.8"/>
<path d="M854.3,1086.9L863.1,1102.0L854.3,1117.1L845.5,1102.0Z" fill="none" stroke="#333" stroke-width="1.8"/>
<path d="M906.6,1095.8L915.4,1110.8L906.6,1125.9L897.9,1110.8Z" fill="none" stroke="#333" stroke-width="1.8"/>
<path d="M947.3,1103.5L956.1,1118.5L947.3,1133.6L938.5,1118.5Z" fill="none" stroke="#333" stroke-width="1.8"/>
<path d="M1079.3,1100.9L1088.8,1115.5L1079.3,1130.1L1069.8,1115.5Z" fill="none" stroke="#333" stroke-width="1.8"/>
<path d="M212.1,51.0L222.6,64.7L212.1,78.4L201.6,64.7Z" fill="#000"/>
<path d="M430.5,45.6L440.1,60.8L430.5,75.9L420.9,60.8Z" fill="none" stroke="#333" stroke-width="1.8"/>
<path transform="translate(661.5,50.6) scale(1.136,0.962)" d="M11,5 C9,-0.5 0,-0.5 0,7 C0,13 7,18 11,26 C15,18 22,13 22,7 C22,-0.5 13,-0.5 11,5 Z" fill="#000"/>
<path d="M906.5,50.8L939.9,50.8L923.2,80.9Z" fill="#000"/>
<path d="M1142.3,47.0L1171.5,47.0L1156.7,79.0ZM1148.2,49.4L1167.7,49.4L1157.8,70.7Z" fill="#111" fill-rule="evenodd"/>
<rect x="1334.5" y="47.6" width="29.3" height="30.9" fill="none" stroke="#555" stroke-width="3.0"/>
<text x="223.0" y="416.1" font-family="Liberation Serif" font-size="50" fill="#000" stroke-width="0.73" xml:space="preserve">?</text>
<text x="1034.0" y="467.3" font-family="Liberation Serif" font-size="50" fill="#000" stroke-width="0.73" xml:space="preserve">?</text>
<text x="228.0" y="615.8" font-family="Liberation Serif" font-size="50" fill="#000" stroke-width="0.73" xml:space="preserve">?</text>
<text x="223.0" y="762.3" font-family="Liberation Serif" font-size="50" fill="#000" stroke-width="0.73" xml:space="preserve">?</text>
<text x="229.4" y="77.0" font-family="Liberation Serif" font-size="52" fill="#000" stroke-width="0.75" xml:space="preserve">: LiBH</text>
<text x="375.1" y="98.9" font-family="Liberation Serif" font-size="32" fill="#000" stroke-width="0.46" xml:space="preserve">4</text>
<text x="442.0" y="76.5" font-family="Liberation Serif" font-size="52" fill="#000" stroke-width="0.75" xml:space="preserve">: LiAlH</text>
<text x="605.1" y="97.2" font-family="Liberation Serif" font-size="32" fill="#000" stroke-width="0.46" xml:space="preserve">4</text>
<text x="691.0" y="75.8" font-family="Liberation Serif" font-size="52" fill="#000" stroke-width="0.75" xml:space="preserve">: Li</text>
<text x="764.6" y="96.7" font-family="Liberation Serif" font-size="32" fill="#000" stroke-width="0.46" xml:space="preserve">3</text>
<text x="782.8" y="75.8" font-family="Liberation Serif" font-size="52" fill="#000" stroke-width="0.75" xml:space="preserve">AlH</text>
<text x="869.0" y="96.7" font-family="Liberation Serif" font-size="32" fill="#000" stroke-width="0.46" xml:space="preserve">6</text>
<text x="942.9" y="79.8" font-family="Liberation Serif" font-size="52" fill="#000" stroke-width="0.75" xml:space="preserve">: Al/LiH</text>
<text x="1174.0" y="77.9" font-family="Liberation Serif" font-size="52" fill="#000" stroke-width="0.75" xml:space="preserve">: LiAl</text>
<text x="1368.2" y="78.8" font-family="Liberation Serif" font-size="52" fill="#000" stroke-width="0.75" xml:space="preserve">: AlB</text>
<text x="1482.5" y="98.5" font-family="Liberation Serif" font-size="32" fill="#000" stroke-width="0.46" xml:space="preserve">2</text>
<text x="1511.6" y="79.6" font-family="Liberation Serif" font-size="52" fill="#000" stroke-width="0.75" xml:space="preserve">?: Li-Al-B-H</text>
<text x="1479.0" y="210.2" font-family="Liberation Serif" font-size="58" fill="#00882c" stroke-width="0.84" xml:space="preserve">6-500°C</text>
<text x="1476.4" y="476.0" font-family="Liberation Serif" font-size="58" fill="#ff8c1a" stroke-width="0.84" xml:space="preserve">5-435°C</text>
<text x="1473.4" y="628.8" font-family="Liberation Serif" font-size="58" fill="#ff1ee6" stroke-width="0.84" xml:space="preserve">4-300°C</text>
<text x="1470.6" y="803.6" font-family="Liberation Serif" font-size="58" fill="#1a1ae0" stroke-width="0.84" xml:space="preserve">3-250°C</text>
<text x="1473.3" y="1002.2" font-family="Liberation Serif" font-size="58" fill="#ff0000" stroke-width="0.84" xml:space="preserve">2-150°C</text>
<text x="1479.0" y="1127.4" font-family="Liberation Serif" font-size="58" fill="#000" stroke-width="0.84" xml:space="preserve">1-RT</text>
<text x="262.0" y="1318.5" font-family="Liberation Serif" font-size="96" fill="#000" stroke-width="1.00" xml:space="preserve">20</text>
<text x="756.7" y="1319.2" font-family="Liberation Serif" font-size="96" fill="#000" stroke-width="1.00" xml:space="preserve">40</text>
<text x="1250.1" y="1319.2" font-family="Liberation Serif" font-size="96" fill="#000" stroke-width="1.00" xml:space="preserve">60</text>
<text x="1745.0" y="1319.2" font-family="Liberation Serif" font-size="96" fill="#000" stroke-width="1.00" xml:space="preserve">80</text>
<text x="874.0" y="1416.2" font-family="Liberation Serif" font-size="96" fill="#000" stroke-width="1.00" xml:space="preserve">2θ/°</text>
<text transform="translate(91.4,863.3) rotate(-90)" font-family="Liberation Serif" font-size="97" fill="#000" stroke-width="1.0">Intensity/a.u.</text>
<g stroke="#000" fill="none">
<line x1="188.5" y1="33.0" x2="1792.3" y2="33.0" stroke-width="4"/>
<line x1="190.6" y1="31.0" x2="190.6" y2="1206.4" stroke-width="4.2"/>
<line x1="1790.4" y1="31.0" x2="1790.4" y2="1206.4" stroke-width="3.6"/>
<line x1="188.5" y1="1203.8" x2="1792.2" y2="1203.8" stroke="#111" stroke-width="5.2"/>
<line x1="312.9" y1="1204" x2="312.9" y2="1230.5" stroke-width="3.4"/>
<line x1="559.1" y1="1204" x2="559.1" y2="1218" stroke-width="3.4"/>
<line x1="805.3" y1="1204" x2="805.3" y2="1230.5" stroke-width="3.4"/>
<line x1="1051.5" y1="1204" x2="1051.5" y2="1218" stroke-width="3.4"/>
<line x1="1297.7" y1="1204" x2="1297.7" y2="1230.5" stroke-width="3.4"/>
<line x1="1543.9" y1="1204" x2="1543.9" y2="1218" stroke-width="3.4"/>
<line x1="1790.1" y1="1204" x2="1790.1" y2="1230.5" stroke-width="3.4"/>
</g>
</svg></body></html>
